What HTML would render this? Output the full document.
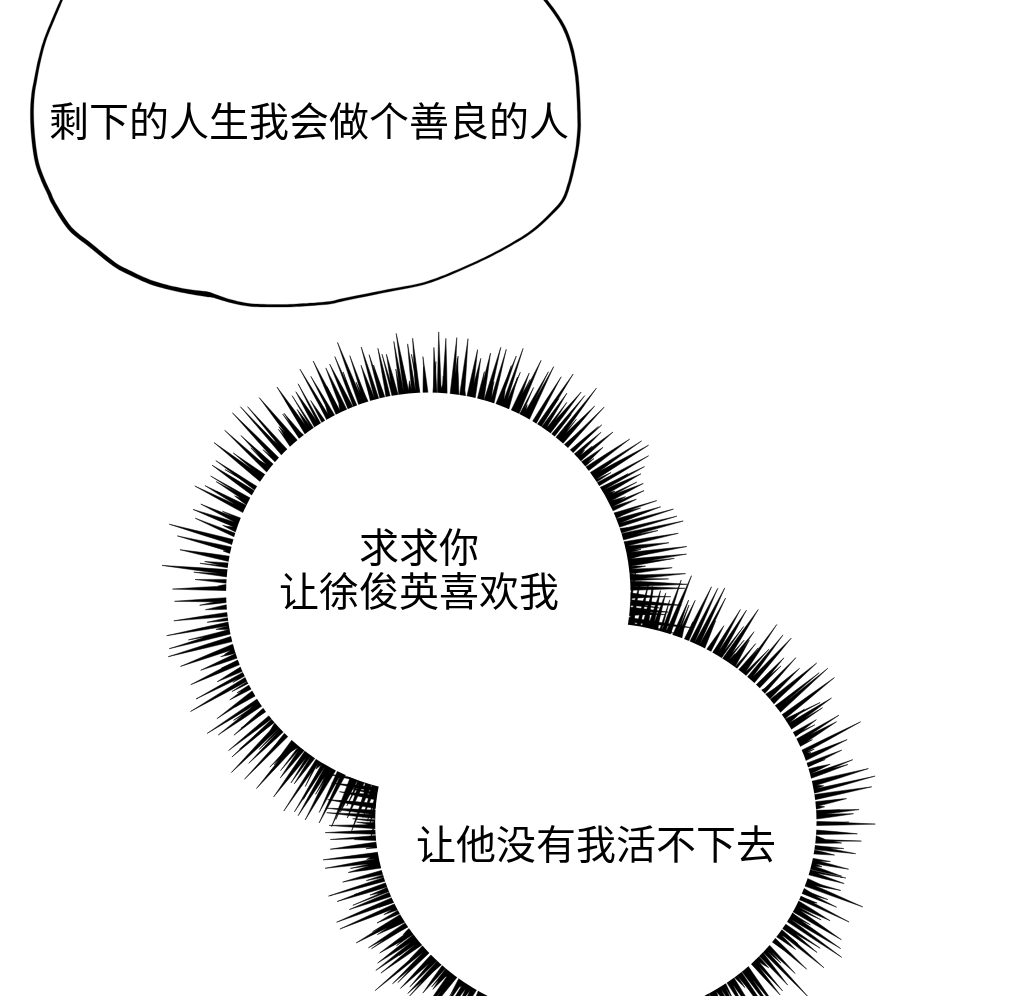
<!DOCTYPE html>
<html lang="zh-CN"><head><meta charset="utf-8"><title>page</title>
<style>
html,body{margin:0;padding:0;background:#fff;}
body{width:1020px;height:996px;position:relative;overflow:hidden;font-family:"Liberation Sans","Noto Sans CJK SC",sans-serif;color:#000;}
svg{position:absolute;left:0;top:0;}
.t{position:absolute;will-change:transform;transform:translateZ(0);white-space:nowrap;font-size:40px;line-height:44px;font-weight:400;text-align:center;letter-spacing:0;}
#t1{left:49px;top:100px;width:520px;}
#t2{left:219px;top:526px;width:400px;}
#t3{left:396px;top:823px;width:400px;}
</style></head><body>
<svg width="1020" height="996" viewBox="0 0 1020 996">
<path d="M62.2 -4.4L62.1 -4.2L62.0 -4.0L61.9 -3.7L61.6 -3.1L61.2 -2.1L60.5 -0.4L59.5 2.0L58.1 5.0L56.6 8.6L55.0 12.3L53.4 16.0L51.9 19.6L50.5 22.9L49.1 26.2L47.7 29.6L46.4 32.9L45.1 36.3L43.9 39.6L42.8 43.0L41.7 46.3L40.8 49.7L39.9 53.0L39.1 56.4L38.2 59.7L37.4 63.1L36.7 66.6L36.0 70.1L35.3 73.5L34.7 76.7L34.1 79.7L33.6 82.5L33.1 85.0L32.6 87.3L32.2 89.7L31.8 92.1L31.5 94.8L31.2 97.7L30.9 100.7L30.7 103.8L30.5 107.1L30.4 110.5L30.4 114.0L30.4 117.8L30.5 121.7L30.7 125.9L30.9 130.1L31.2 134.3L31.6 138.4L32.0 142.5L32.5 146.7L33.1 150.9L33.7 155.0L34.4 159.0L35.2 162.7L36.1 166.2L37.1 169.4L38.1 172.5L39.2 175.3L40.3 178.1L41.3 180.7L42.4 183.2L43.4 185.5L44.4 187.7L45.4 189.8L46.4 191.8L47.3 193.8L48.1 195.5L48.6 197.0L49.2 198.6L49.9 200.3L51.0 202.4L52.5 205.0L54.4 208.4L56.7 212.4L59.3 216.8L62.2 221.3L65.2 225.6L68.3 229.5L71.5 232.9L74.8 235.8L78.2 238.5L81.8 241.2L85.3 243.8L89.0 246.7L92.8 249.8L97.0 253.3L101.3 256.8L105.5 260.2L109.5 263.3L113.2 265.9L116.3 268.0L119.0 269.7L121.5 271.0L123.9 272.2L126.4 273.4L129.1 274.7L132.2 276.2L135.4 277.8L138.7 279.3L142.1 280.9L145.5 282.3L148.9 283.7L152.2 284.9L155.5 285.9L158.8 286.9L162.1 287.8L165.4 288.7L168.7 289.5L172.0 290.3L175.3 291.1L178.6 291.8L181.9 292.4L185.2 293.1L188.4 293.7L191.9 294.3L195.4 294.9L199.0 295.5L202.3 296.0L205.4 296.5L208.0 296.9L210.1 297.1L211.9 297.3L213.4 297.5L214.7 297.6L215.8 297.7L216.7 297.8L217.3 295.8L216.5 295.4L215.6 294.9L214.4 294.2L212.9 293.5L211.1 292.8L208.8 292.1L206.1 291.6L203.0 291.2L199.6 290.8L196.1 290.4L192.5 290.0L189.2 289.5L185.9 289.0L182.6 288.4L179.4 287.8L176.2 287.1L172.9 286.4L169.7 285.7L166.4 284.8L163.2 284.0L160.0 283.1L156.7 282.1L153.5 281.1L150.3 279.9L147.0 278.6L143.7 277.2L140.4 275.7L137.1 274.2L133.9 272.6L130.9 271.1L128.1 269.8L125.7 268.6L123.3 267.5L121.0 266.2L118.4 264.7L115.4 262.7L111.9 260.1L108.0 257.0L103.8 253.7L99.5 250.2L95.4 246.7L91.4 243.5L87.7 240.6L84.2 238.0L80.7 235.4L77.4 232.7L74.3 230.0L71.3 226.9L68.4 223.3L65.5 219.1L62.7 214.8L60.0 210.5L57.7 206.5L55.7 203.2L54.3 200.6L53.4 198.7L52.7 197.2L52.1 195.7L51.5 194.1L50.7 192.2L49.7 190.2L48.7 188.2L47.7 186.1L46.7 184.0L45.7 181.7L44.7 179.3L43.6 176.7L42.5 174.0L41.5 171.2L40.4 168.3L39.5 165.2L38.6 161.9L37.8 158.3L37.1 154.5L36.5 150.4L35.9 146.3L35.4 142.1L35.0 138.0L34.6 134.0L34.3 129.8L34.0 125.7L33.8 121.6L33.7 117.7L33.6 114.0L33.6 110.5L33.7 107.2L33.8 104.0L34.0 101.0L34.2 98.0L34.5 95.2L34.8 92.5L35.1 90.1L35.5 87.8L35.9 85.5L36.4 83.0L36.9 80.3L37.4 77.2L38.0 74.0L38.6 70.6L39.3 67.1L40.0 63.7L40.8 60.3L41.5 57.0L42.4 53.6L43.2 50.3L44.1 47.0L45.1 43.7L46.1 40.4L47.3 37.1L48.6 33.8L49.9 30.4L51.3 27.1L52.7 23.8L54.1 20.4L55.5 16.9L57.1 13.2L58.7 9.4L60.2 5.9L61.5 2.8L62.5 0.4L63.2 -1.2L63.6 -2.2L63.9 -2.8L64.0 -3.1L64.1 -3.3L64.2 -3.6ZM202.7 293.6L203.6 293.9L204.8 294.3L206.1 294.9L207.7 295.5L209.5 296.1L211.5 296.8L213.7 297.6L216.1 298.4L218.8 299.3L221.6 300.2L224.6 301.1L227.6 301.9L230.7 302.7L233.9 303.5L237.2 304.3L240.6 305.0L244.0 305.6L247.4 306.1L250.7 306.4L254.1 306.7L257.4 306.8L260.7 306.9L264.0 307.0L267.3 307.0L270.5 307.1L273.8 307.1L277.1 307.1L280.4 307.1L283.7 307.1L286.9 307.0L290.2 306.9L293.3 306.8L296.5 306.6L299.8 306.4L303.1 306.2L306.6 306.0L310.4 305.7L314.5 305.4L318.7 305.1L322.8 304.8L326.7 304.4L330.2 304.0L332.8 303.6L334.6 303.2L336.2 302.8L338.0 302.3L340.6 301.7L344.6 300.8L350.4 299.6L357.7 298.1L365.9 296.4L374.2 294.7L382.2 293.1L389.2 291.7L395.3 290.5L400.9 289.5L406.1 288.5L411.1 287.6L415.8 286.6L420.3 285.6L424.4 284.4L428.2 283.3L431.7 282.2L435.0 280.9L438.5 279.7L442.1 278.3L445.9 276.8L449.8 275.2L453.7 273.5L457.7 271.8L461.7 270.1L465.6 268.3L469.5 266.6L473.5 264.8L477.5 263.0L481.4 261.1L485.3 259.3L489.1 257.4L492.9 255.5L496.5 253.6L500.2 251.7L503.7 249.8L507.3 247.8L510.9 245.7L514.6 243.6L518.3 241.4L522.0 239.2L525.7 236.9L529.2 234.6L532.7 232.1L536.0 229.5L539.3 226.8L542.4 224.0L545.4 221.2L548.3 218.4L551.0 215.8L553.5 213.3L555.9 210.9L558.2 208.6L560.3 206.2L562.2 203.8L563.9 201.2L565.5 198.5L566.7 195.8L567.7 193.0L568.7 190.2L569.5 187.4L570.4 184.6L571.3 181.7L572.1 178.6L572.9 175.6L573.6 172.5L574.3 169.4L575.0 166.4L575.6 163.4L576.3 160.4L577.0 157.4L577.6 154.4L578.1 151.3L578.6 148.3L579.1 145.2L579.5 142.0L579.8 138.7L580.1 135.6L580.3 132.7L580.5 130.1L580.6 128.0L580.7 126.4L580.7 124.9L580.7 123.5L580.6 121.7L580.6 119.5L580.5 116.5L580.5 113.2L580.3 109.5L580.2 105.7L580.1 101.9L579.9 98.3L579.7 94.9L579.5 91.5L579.3 88.2L579.1 84.9L578.8 81.7L578.5 78.5L578.2 75.6L577.8 72.7L577.4 69.9L577.0 67.2L576.5 64.4L576.0 61.6L575.4 58.8L574.9 56.0L574.3 53.1L573.7 50.3L572.9 47.4L572.1 44.6L571.2 41.7L570.2 38.8L569.2 35.8L568.1 33.0L566.9 30.1L565.7 27.5L564.4 24.9L563.0 22.5L561.6 20.1L560.2 17.9L558.7 15.6L557.1 13.3L555.4 10.8L553.5 8.1L551.5 5.5L549.6 3.0L548.0 0.9L546.6 -0.9L545.6 -2.2L544.8 -3.2L544.2 -3.9L543.7 -4.4L543.4 -4.7L543.1 -5.0L540.9 -3.0L541.2 -2.7L541.5 -2.3L541.9 -1.9L542.5 -1.3L543.2 -0.4L544.2 0.9L545.6 2.7L547.3 4.9L549.1 7.3L551.1 9.9L553.0 12.5L554.7 14.9L556.2 17.2L557.7 19.5L559.1 21.7L560.4 24.0L561.7 26.3L562.9 28.7L564.1 31.4L565.3 34.1L566.4 36.9L567.4 39.8L568.4 42.6L569.3 45.4L570.0 48.2L570.7 51.0L571.4 53.8L572.0 56.6L572.5 59.4L573.0 62.2L573.5 64.9L574.0 67.6L574.4 70.3L574.8 73.1L575.2 75.9L575.5 78.9L575.8 81.9L576.1 85.1L576.3 88.4L576.5 91.7L576.7 95.1L576.9 98.5L577.1 102.0L577.2 105.8L577.3 109.6L577.5 113.2L577.5 116.6L577.6 119.5L577.6 121.8L577.7 123.5L577.7 124.9L577.7 126.3L577.6 127.9L577.5 129.9L577.3 132.5L577.1 135.4L576.8 138.4L576.5 141.6L576.2 144.8L575.8 147.9L575.3 150.9L574.8 153.8L574.2 156.8L573.5 159.8L572.9 162.8L572.2 165.8L571.6 168.8L570.9 171.9L570.2 174.9L569.4 178.0L568.7 180.9L567.8 183.8L566.9 186.6L566.1 189.4L565.2 192.1L564.2 194.8L563.0 197.3L561.7 199.8L560.0 202.2L558.2 204.5L556.2 206.8L554.0 209.1L551.7 211.5L549.2 214.0L546.6 216.7L543.8 219.4L540.8 222.2L537.7 225.0L534.5 227.7L531.3 230.3L528.0 232.7L524.5 235.1L520.9 237.4L517.2 239.6L513.5 241.8L509.9 243.9L506.3 246.0L502.7 248.0L499.2 249.9L495.6 251.8L492.0 253.7L488.3 255.6L484.5 257.5L480.6 259.3L476.6 261.2L472.7 263.0L468.7 264.7L464.8 266.5L460.9 268.2L456.9 269.9L452.9 271.6L449.0 273.3L445.1 274.9L441.3 276.3L437.7 277.7L434.3 278.9L431.0 280.1L427.5 281.3L423.8 282.4L419.7 283.4L415.3 284.4L410.6 285.4L405.7 286.3L400.5 287.2L394.9 288.2L388.8 289.3L381.8 290.7L373.7 292.3L365.4 293.9L357.2 295.6L349.9 297.0L344.0 298.2L340.0 299.1L337.3 299.8L335.5 300.3L334.0 300.7L332.3 301.0L329.8 301.4L326.4 301.8L322.6 302.2L318.5 302.5L314.3 302.9L310.2 303.1L306.4 303.4L302.9 303.6L299.6 303.8L296.4 304.0L293.2 304.2L290.1 304.3L286.9 304.4L283.6 304.5L280.4 304.5L277.1 304.5L273.9 304.5L270.6 304.4L267.3 304.4L264.0 304.3L260.8 304.2L257.5 304.1L254.2 303.9L251.0 303.7L247.8 303.3L244.5 302.8L241.2 302.1L237.9 301.4L234.6 300.5L231.5 299.7L228.4 298.9L225.5 298.0L222.7 297.0L219.9 296.1L217.2 295.1L214.8 294.3L212.5 293.6L210.5 293.0L208.6 292.6L206.9 292.3L205.4 292.0L204.2 291.8L203.3 291.6Z" fill="#000" stroke="#000" stroke-width="0.3" stroke-linejoin="round"/>
<path d="M234.1 585.8L226.1 585.9L202.0 587.2L172.5 589.1L202.0 590.0L226.2 590.5L234.2 590.4ZM234.5 579.8L226.5 579.4L212.4 579.4L195.0 579.5L212.2 581.6L226.3 583.2L234.3 583.6ZM235.4 570.4L227.4 569.6L198.0 567.6L162.0 565.4L197.7 570.5L226.9 574.5L234.9 575.3ZM236.2 564.1L228.3 563.0L217.7 562.2L204.6 561.5L217.3 564.4L227.8 566.7L235.7 567.8ZM237.4 557.7L229.5 556.2L207.2 553.1L179.9 549.7L206.6 556.3L228.5 561.4L236.4 562.9ZM239.2 548.9L231.5 547.0L207.1 541.9L177.3 535.9L206.4 544.7L230.3 551.8L238.0 553.7ZM241.1 541.7L233.4 539.5L204.5 532.5L169.2 524.2L203.7 535.4L232.0 544.3L239.7 546.5ZM242.7 536.4L235.4 533.3L217.3 526.4L195.2 518.2L216.5 528.5L233.9 536.7L241.3 539.9ZM246.2 526.0L238.6 523.2L218.2 516.9L193.0 509.4L217.1 519.9L236.8 528.2L244.3 530.9ZM247.4 523.1L240.1 519.7L222.5 512.6L200.8 504.1L221.3 515.1L238.2 523.9L245.5 527.2ZM251.9 512.5L244.7 508.9L222.3 498.5L194.8 486.0L221.2 500.7L242.8 512.6L250.0 516.2ZM253.5 509.2L246.5 505.4L227.8 496.4L204.9 485.6L226.3 499.1L244.0 509.9L251.0 513.7ZM256.5 503.3L249.6 499.2L234.6 491.2L216.1 481.6L233.4 493.2L247.6 502.6L254.5 506.7ZM261.1 495.2L254.4 490.7L235.4 479.1L212.1 465.2L233.7 481.7L251.6 494.9L258.2 499.4ZM263.5 491.1L256.9 486.5L238.5 474.8L215.8 460.6L237.1 476.8L254.6 490.0L261.2 494.5ZM269.6 482.1L263.2 477.2L241.2 461.6L214.0 442.6L239.2 464.1L260.0 481.5L266.3 486.4ZM271.4 479.5L265.0 474.6L250.7 464.8L233.2 452.9L249.3 466.7L262.6 477.8L268.9 482.7ZM275.4 474.5L269.5 469.0L249.4 451.5L224.7 430.3L247.7 453.4L266.6 472.1L272.5 477.5ZM279.1 469.9L273.4 464.3L258.9 451.3L240.9 435.5L257.0 453.1L270.4 467.4L276.1 473.0ZM284.5 463.7L279.0 457.9L258.1 437.5L232.4 412.8L256.0 439.5L275.6 461.2L281.1 467.0ZM289.8 458.1L284.4 452.1L264.7 431.6L240.4 406.7L262.9 433.3L281.4 454.9L286.8 460.8ZM292.4 455.5L287.2 449.4L269.5 430.2L247.6 406.7L267.7 431.7L284.2 452.1L289.4 458.1ZM299.7 448.9L294.8 442.6L287.7 435.3L278.9 426.6L285.1 437.3L290.4 446.0L295.3 452.3ZM302.5 446.4L297.4 440.2L280.3 420.9L259.2 397.6L277.8 422.9L293.3 443.5L298.4 449.7ZM308.0 441.9L303.3 435.4L294.7 425.4L284.0 413.3L292.4 427.1L299.5 438.3L304.2 444.7ZM313.9 437.5L309.5 430.9L295.0 411.1L277.0 387.1L292.3 412.9L304.9 433.9L309.4 440.5ZM316.5 435.7L312.2 428.9L305.5 420.1L297.2 409.5L303.3 421.5L308.5 431.2L312.8 438.0ZM323.2 431.1L319.0 424.3L308.7 409.6L295.8 391.7L305.9 411.3L314.4 427.1L318.6 434.0ZM329.0 427.5L324.9 420.6L318.6 411.5L310.7 400.5L316.7 412.6L321.8 422.5L325.9 429.4ZM334.1 424.6L330.1 417.7L316.6 395.8L300.0 369.2L314.7 396.9L326.9 419.5L330.9 426.4ZM338.6 422.2L334.7 415.2L324.0 397.6L310.8 376.3L322.1 398.7L331.4 417.0L335.3 424.0ZM344.0 419.6L340.6 412.3L328.3 389.2L313.2 361.0L325.6 390.5L336.0 414.5L339.4 421.7ZM350.0 416.8L346.8 409.5L337.5 390.7L325.8 367.9L334.5 392.0L341.9 411.6L345.1 419.0ZM356.4 414.0L352.9 406.8L342.6 387.5L329.7 364.1L339.7 388.9L348.1 409.0L351.5 416.3ZM360.0 412.7L356.9 405.3L347.0 383.4L334.8 356.6L344.9 384.2L353.4 406.8L356.5 414.2ZM366.3 410.5L363.4 403.0L351.9 375.7L337.5 342.4L349.1 376.8L358.7 404.8L361.6 412.3ZM370.3 409.2L367.7 401.6L359.7 381.0L349.8 355.7L357.6 381.7L364.1 402.9L366.7 410.4ZM377.6 407.0L375.0 399.4L368.8 384.0L361.0 365.3L366.2 384.9L370.7 400.9L373.3 408.5ZM381.1 406.2L378.8 398.5L371.0 375.3L361.2 347.0L368.6 376.0L374.9 399.7L377.2 407.3ZM386.0 405.0L383.8 397.3L377.3 378.1L369.1 354.7L375.0 378.8L379.9 398.4L382.2 406.1ZM391.9 403.9L390.2 396.0L384.8 374.5L377.9 348.3L382.3 375.1L386.1 396.9L387.7 404.8ZM399.9 402.4L398.1 394.6L393.0 376.4L386.4 354.2L389.9 377.1L393.1 395.7L394.8 403.5ZM405.4 401.8L404.1 393.9L399.6 370.2L393.8 341.4L397.3 370.6L400.3 394.5L401.6 402.4ZM410.3 401.1L409.0 393.2L403.3 366.3L396.2 333.4L400.4 366.8L404.0 394.1L405.4 402.0ZM416.8 400.7L415.8 392.8L412.2 370.8L407.6 343.9L409.8 371.1L411.8 393.3L412.8 401.2ZM420.5 400.5L419.8 392.6L416.7 368.1L412.6 338.2L414.1 368.4L415.6 393.0L416.3 400.9ZM427.0 400.4L426.6 392.4L425.3 381.0L423.5 367.0L423.1 381.1L423.0 392.6L423.4 400.6ZM437.2 400.6L437.0 392.6L435.7 372.2L433.9 347.4L433.5 372.3L433.4 392.7L433.6 400.7ZM441.4 400.8L441.3 392.8L440.2 365.4L438.7 331.9L437.9 365.4L437.4 392.8L437.5 400.8ZM446.9 401.2L447.1 393.2L446.7 368.5L445.9 338.3L443.8 368.4L442.3 393.1L442.1 401.1ZM454.0 402.1L454.7 394.1L455.7 368.7L456.8 337.6L453.0 368.5L450.1 393.7L449.5 401.7ZM458.7 402.5L458.9 394.5L458.4 378.1L457.4 358.1L455.3 378.1L453.9 394.4L453.7 402.4ZM463.6 403.5L464.5 395.6L466.2 370.0L468.0 338.7L463.3 369.7L459.6 395.1L458.8 403.0ZM471.0 405.1L472.3 397.2L474.8 375.8L477.6 349.6L471.6 375.2L466.9 396.3L465.6 404.2ZM473.8 405.8L475.3 397.9L477.9 380.1L480.8 358.3L475.0 379.6L470.6 397.0L469.0 404.8ZM482.4 407.9L483.9 400.0L487.0 378.9L490.5 353.1L483.9 378.3L478.7 399.0L477.1 406.8ZM486.8 409.3L488.9 401.6L494.4 377.2L500.8 347.3L491.5 376.4L484.0 400.3L482.0 408.0ZM491.9 411.0L494.0 403.2L499.6 379.0L506.3 349.3L497.3 378.4L490.1 402.2L488.0 409.9ZM496.9 412.9L499.8 405.4L507.3 383.2L516.3 356.0L504.9 382.3L495.8 403.9L493.0 411.4ZM502.4 414.9L505.0 407.4L513.3 380.8L523.1 348.4L511.1 380.1L501.5 406.1L498.9 413.7ZM506.3 416.5L508.9 408.9L512.9 394.6L517.6 377.0L510.8 393.9L505.3 407.7L502.8 415.3ZM513.0 419.6L516.0 412.2L522.0 394.6L529.2 373.0L519.2 393.4L511.2 410.2L508.2 417.6ZM515.7 421.0L519.0 413.7L529.1 389.8L541.1 360.3L526.4 388.5L514.5 411.6L511.2 418.9ZM522.4 424.6L526.2 417.5L536.3 397.0L548.4 371.8L534.3 395.9L522.9 415.7L519.1 422.8ZM525.9 426.4L529.5 419.2L540.5 395.6L553.7 366.6L538.0 394.4L525.4 417.1L521.7 424.3ZM532.2 430.3L536.3 423.4L547.6 402.5L561.2 376.8L545.3 401.1L532.5 421.2L528.5 428.1ZM536.9 433.4L541.3 426.7L555.8 403.0L573.2 374.0L553.4 401.5L537.5 424.1L533.1 430.8ZM541.0 436.1L545.4 429.4L555.2 413.2L566.9 393.2L552.9 411.7L541.6 426.9L537.1 433.5ZM545.3 439.5L550.4 433.3L564.4 414.8L581.2 392.0L562.0 412.8L546.4 430.0L541.3 436.2ZM549.5 442.5L554.5 436.3L568.2 418.0L584.8 395.6L566.5 416.6L551.6 434.0L546.6 440.2ZM554.6 446.5L559.4 440.2L576.1 416.9L596.4 388.2L574.0 415.2L555.8 437.4L551.0 443.7ZM557.5 449.3L563.0 443.5L577.4 426.7L594.7 406.0L575.0 424.5L559.1 439.8L553.6 445.6ZM562.3 453.6L567.8 447.8L584.2 429.5L604.2 407.1L582.6 427.9L565.0 445.1L559.5 450.9ZM567.1 458.3L572.9 452.9L584.5 441.0L598.4 426.4L582.8 439.3L570.2 449.9L564.3 455.3ZM570.9 462.2L576.8 456.8L587.8 445.8L601.1 432.2L586.2 444.1L574.2 454.0L568.3 459.4ZM574.4 466.2L580.6 461.2L595.3 448.1L613.0 432.0L593.5 446.0L577.7 457.5L571.5 462.6ZM578.2 470.6L584.5 465.6L592.9 457.4L603.1 447.3L591.1 455.2L581.4 461.8L575.2 466.8ZM582.0 475.4L588.6 470.8L607.2 456.6L629.7 439.1L605.5 454.3L585.8 466.9L579.3 471.5ZM585.8 480.4L592.5 476.0L614.6 460.3L641.6 440.9L613.2 458.2L590.2 472.5L583.5 476.9ZM588.2 484.0L595.1 479.9L619.3 464.4L648.6 445.2L617.6 461.5L592.3 475.1L585.4 479.1ZM592.2 489.7L599.2 485.8L621.5 472.4L648.6 455.8L620.3 470.4L597.3 482.5L590.3 486.4ZM595.1 494.4L602.2 490.8L621.3 480.0L644.5 466.6L620.2 477.9L600.4 487.3L593.3 491.0ZM597.7 498.9L604.8 495.3L621.2 485.7L641.0 473.8L619.7 482.8L602.4 490.4L595.2 494.1ZM601.3 505.5L608.5 502.2L624.3 493.8L643.3 483.4L623.0 491.1L606.4 497.5L599.1 500.9ZM603.1 509.0L610.4 505.9L617.2 501.8L625.5 496.7L616.1 499.3L608.5 501.5L601.2 504.7ZM605.4 514.0L612.8 511.0L623.5 505.8L636.4 499.2L622.6 503.5L611.3 507.3L603.9 510.3ZM607.9 520.1L615.6 517.8L626.9 513.5L640.6 508.1L626.1 510.9L614.3 513.5L606.6 515.8ZM610.2 525.6L617.8 523.2L637.1 515.9L660.7 506.8L636.3 513.3L616.4 518.7L608.8 521.2ZM611.7 529.6L619.3 527.3L643.7 519.2L673.4 509.1L643.0 516.9L618.2 523.5L610.5 525.8ZM613.5 535.1L621.2 533.1L646.3 525.6L676.9 516.2L645.7 523.3L620.2 529.2L612.5 531.3ZM615.0 540.2L622.8 538.3L650.0 530.6L683.2 521.0L649.3 527.7L621.6 533.4L613.8 535.3ZM617.1 547.9L624.9 546.4L649.0 540.6L678.3 533.3L648.4 537.8L624.0 541.7L616.1 543.2ZM618.0 552.2L625.9 551.1L645.3 547.5L668.9 542.7L644.9 544.4L625.2 546.1L617.3 547.2ZM619.5 559.2L627.4 558.1L654.1 553.0L686.8 546.5L653.6 549.8L626.6 552.7L618.7 553.9ZM620.5 565.2L628.4 564.1L654.6 559.8L686.5 554.1L654.2 556.8L627.7 559.1L619.8 560.2ZM620.8 567.6L628.8 566.5L649.3 562.9L674.3 558.4L649.0 560.8L628.3 562.9L620.3 564.0ZM621.6 574.8L629.6 574.1L648.8 571.3L672.2 567.7L648.5 568.4L629.2 569.2L621.2 569.9ZM622.1 580.4L630.1 579.8L655.1 577.1L685.6 573.6L654.9 574.4L629.8 575.2L621.8 575.7ZM622.3 586.3L630.3 586.4L655.9 585.6L687.3 584.3L656.0 582.3L630.3 580.9L622.3 580.8ZM622.5 590.4L630.5 590.3L655.0 589.5L684.9 588.3L655.0 587.0L630.5 586.2L622.5 586.2ZM622.4 598.0L630.4 598.3L641.3 597.7L654.7 596.7L641.4 594.5L630.6 592.9L622.6 592.6ZM622.1 604.0L630.1 604.5L653.2 605.0L681.4 605.3L653.4 602.1L630.4 599.7L622.4 599.3ZM621.6 611.7L629.6 612.2L646.9 612.3L668.0 612.1L647.1 609.2L629.9 607.1L621.9 606.6ZM621.4 613.6L629.4 614.2L645.7 614.5L665.7 614.7L645.9 612.2L629.7 610.2L621.7 609.7ZM620.4 621.1L628.3 622.1L657.2 624.7L692.5 627.8L657.5 622.0L628.9 617.4L621.0 616.4ZM619.4 627.2L627.3 628.4L648.3 630.7L674.1 633.1L648.8 627.8L628.0 623.6L620.1 622.4ZM618.4 632.2L626.3 633.6L636.6 634.6L649.2 635.7L637.0 632.4L626.9 629.9L619.0 628.5ZM617.2 636.9L625.0 638.8L650.9 643.9L682.7 649.8L651.7 640.7L626.3 633.5L618.5 631.7ZM615.4 643.8L623.1 646.2L642.0 651.0L665.3 656.8L642.8 648.5L624.4 641.9L616.7 639.5ZM614.0 648.9L621.7 651.1L650.2 658.2L685.1 666.6L651.0 655.5L623.0 646.6L615.3 644.4ZM611.7 656.2L619.4 658.4L647.9 665.8L682.8 674.5L648.7 663.0L620.7 653.8L613.0 651.6ZM610.8 658.7L618.5 660.9L642.4 666.9L671.7 674.0L643.1 664.6L619.6 657.0L611.9 654.8ZM608.7 664.0L616.4 666.5L637.7 672.5L663.9 679.7L638.6 670.0L617.8 662.2L610.1 659.7ZM606.1 670.2L613.6 673.0L636.5 680.4L664.6 689.2L637.6 677.5L615.4 668.2L607.9 665.4ZM603.6 675.2L610.9 678.7L634.8 689.1L664.1 701.8L635.8 687.1L612.5 675.2L605.3 671.8ZM600.3 682.2L607.6 685.4L632.4 695.6L662.8 707.8L633.4 693.2L609.3 681.5L602.0 678.2ZM598.4 685.8L605.6 689.1L628.1 698.2L655.6 709.1L629.4 695.4L607.8 684.4L600.5 681.1ZM595.5 690.8L602.8 694.2L620.9 701.5L643.3 710.2L622.3 698.6L605.1 689.3L597.9 685.9ZM591.4 697.2L598.4 701.1L616.1 710.0L638.0 720.7L617.6 707.5L600.7 696.9L593.8 692.9ZM589.7 699.8L596.6 703.8L606.7 708.5L619.2 714.0L608.2 705.9L599.1 699.5L592.1 695.5ZM585.6 705.6L592.4 709.8L612.2 720.8L636.6 734.0L613.6 718.6L594.6 706.1L587.8 702.0ZM581.4 711.1L588.1 715.5L599.8 721.8L614.2 729.3L601.5 719.2L591.0 711.1L584.3 706.8ZM578.1 715.1L584.6 719.8L603.0 731.7L625.7 746.1L604.8 729.2L587.6 715.6L581.1 710.9ZM575.2 718.6L581.6 723.3L602.3 737.4L627.7 754.5L603.8 735.3L584.1 719.9L577.7 715.1ZM571.1 723.0L577.3 728.0L594.8 741.3L616.4 757.3L596.3 739.5L579.7 725.1L573.5 720.1ZM565.9 728.6L572.1 733.6L580.7 739.2L591.3 745.9L582.4 737.1L575.0 730.0L568.7 725.0ZM562.2 732.0L568.1 737.4L581.6 748.2L598.1 761.3L583.5 746.0L571.5 733.7L565.5 728.3ZM559.7 734.1L565.2 739.9L580.0 753.9L598.3 770.7L582.2 751.8L568.8 736.5L563.3 730.7ZM555.2 738.2L560.6 744.0L578.9 762.5L601.5 784.9L580.6 760.9L563.4 741.4L558.0 735.5ZM549.0 743.2L554.2 749.3L570.5 766.8L590.7 787.9L573.0 764.6L558.3 745.8L553.1 739.7ZM544.0 747.1L549.3 753.1L563.4 767.8L580.8 785.6L565.3 766.1L552.6 750.2L547.3 744.2ZM539.5 750.1L544.3 756.6L561.8 778.8L583.3 805.9L563.9 777.3L547.8 754.0L543.0 747.6ZM536.1 752.5L540.9 759.0L554.5 775.6L571.3 795.7L556.7 773.9L544.7 756.1L539.9 749.7ZM530.1 756.2L534.4 762.9L547.9 782.3L564.5 805.7L550.3 780.7L538.4 760.4L534.1 753.7ZM527.0 758.1L531.2 764.9L538.2 774.2L546.9 785.5L540.6 772.7L535.2 762.4L531.0 755.6ZM520.3 762.0L524.6 768.8L541.1 792.9L561.6 822.3L543.8 791.2L529.0 766.0L524.7 759.2ZM516.7 763.8L520.8 770.7L527.3 779.6L535.5 790.4L530.1 778.0L525.4 768.0L521.4 761.1ZM511.8 766.1L515.5 773.2L523.5 786.8L533.5 803.3L526.1 785.5L519.8 771.0L516.2 763.9ZM506.4 768.5L509.7 775.8L519.8 796.7L532.5 822.2L522.2 795.6L513.7 774.0L510.5 766.7ZM501.0 770.7L503.7 778.2L514.5 805.4L528.0 838.6L517.1 804.5L508.0 776.6L505.3 769.1ZM494.3 773.3L497.1 780.8L507.9 807.2L521.4 839.4L510.9 806.1L502.0 779.0L499.3 771.4ZM488.3 775.4L491.0 782.9L501.2 808.7L514.1 840.1L504.2 807.6L495.9 781.1L493.2 773.6ZM482.5 776.9L484.4 784.7L490.9 807.1L499.1 834.4L493.9 806.3L489.5 783.5L487.6 775.7ZM478.1 778.3L480.1 786.0L484.6 799.2L490.5 815.2L487.9 798.3L485.5 784.6L483.5 776.9ZM472.8 779.5L474.4 787.3L479.9 808.6L486.9 834.5L483.2 807.9L479.8 786.2L478.2 778.4ZM468.4 780.4L469.8 788.3L472.9 800.4L477.0 815.2L476.0 799.9L474.9 787.5L473.5 779.6ZM463.2 781.5L464.2 789.4L467.9 813.2L472.6 842.3L470.1 813.0L467.8 789.0L466.8 781.0ZM457.5 782.4L458.3 790.4L461.1 808.9L464.7 831.5L463.5 808.6L462.3 790.0L461.5 782.0ZM449.5 783.5L450.2 791.5L452.5 810.0L455.6 832.7L454.9 809.8L454.1 791.1L453.5 783.2ZM443.0 784.1L443.4 792.0L445.4 812.4L448.1 837.2L448.5 812.2L448.6 791.8L448.3 783.8ZM438.6 784.3L438.7 792.3L440.0 820.9L441.8 855.7L442.8 820.8L443.4 792.3L443.3 784.3ZM432.0 784.5L431.4 792.5L430.4 815.2L429.4 843.0L432.6 815.4L435.1 792.8L435.7 784.8ZM425.7 784.6L425.2 792.6L424.4 815.9L423.7 844.4L426.9 816.0L429.3 792.8L429.9 784.9ZM419.9 784.5L419.3 792.4L418.1 817.5L417.0 848.1L420.3 817.7L422.9 792.7L423.5 784.7ZM415.7 784.2L415.0 792.2L413.5 818.0L411.9 849.6L415.8 818.2L418.9 792.6L419.6 784.6ZM410.7 783.7L409.4 791.6L407.0 812.0L404.4 837.1L410.1 812.6L414.6 792.5L416.0 784.6ZM403.8 783.1L402.7 791.1L400.9 810.8L398.9 834.9L403.2 811.1L406.6 791.6L407.6 783.6ZM396.3 782.1L395.1 790.0L393.6 806.2L392.0 826.0L396.7 806.7L400.3 790.8L401.5 782.9ZM391.3 781.0L389.2 788.8L386.4 803.3L383.2 821.1L389.0 804.0L393.6 789.9L395.6 782.2ZM385.1 779.8L382.9 787.5L377.1 810.9L370.2 839.6L379.5 811.6L386.9 788.6L389.2 780.9ZM379.6 778.5L377.6 786.3L374.0 803.4L369.8 824.3L376.3 804.0L381.5 787.3L383.5 779.5ZM375.1 777.2L372.4 784.8L368.1 799.5L362.9 817.5L370.4 800.3L376.4 786.2L379.1 778.6ZM370.1 775.7L367.3 783.2L360.2 804.6L351.7 830.8L362.6 805.5L371.3 784.8L374.1 777.3ZM363.0 773.4L359.9 780.8L354.2 797.5L347.3 818.0L356.7 798.5L364.1 782.5L367.1 775.1ZM356.2 770.8L352.9 778.1L347.1 793.5L340.3 812.3L349.8 794.7L357.5 780.2L360.8 772.9ZM353.3 769.8L350.3 777.2L341.8 799.4L331.6 826.7L343.8 800.3L353.6 778.6L356.7 771.2ZM345.2 766.2L341.6 773.3L331.4 795.6L319.1 823.0L333.7 796.8L345.5 775.3L349.1 768.1ZM341.0 764.2L337.4 771.3L329.1 789.8L319.2 812.5L331.5 791.0L341.4 773.3L345.0 766.2ZM334.8 760.9L330.9 767.9L319.2 791.2L305.2 819.9L322.1 792.8L335.7 770.6L339.6 763.6ZM330.1 758.2L325.9 765.1L313.3 787.8L298.1 815.7L316.0 789.4L330.4 767.8L334.5 761.0ZM326.7 756.3L322.5 763.1L309.8 785.0L294.4 811.9L311.8 786.3L325.9 765.2L330.1 758.4ZM320.7 752.5L316.2 759.1L301.6 782.4L283.8 811.0L303.4 783.7L319.4 761.2L323.8 754.6ZM315.8 749.2L311.2 755.7L303.5 768.3L294.2 783.9L305.7 769.9L314.9 758.3L319.4 751.7ZM309.6 744.7L304.8 751.1L290.7 771.6L273.6 796.9L293.2 773.5L309.0 754.2L313.8 747.8ZM305.1 741.2L300.2 747.5L291.1 761.2L280.2 778.1L293.5 763.0L304.2 750.5L309.0 744.2ZM298.9 735.9L293.7 741.9L276.8 762.8L256.4 788.6L279.0 764.7L297.3 745.1L302.5 739.0ZM296.8 734.1L291.7 740.2L283.6 751.2L274.0 764.9L285.8 753.0L295.2 743.2L300.3 737.0ZM290.6 728.1L285.1 733.9L266.8 754.2L244.5 779.2L268.5 755.8L287.9 736.6L293.4 730.8ZM286.3 723.7L280.6 729.3L266.2 744.5L248.7 763.3L267.8 746.2L283.3 732.1L289.0 726.5ZM281.5 718.6L275.9 724.3L255.7 745.9L231.4 772.5L257.9 748.0L279.4 727.8L285.1 722.2ZM277.7 714.0L271.7 719.3L253.7 736.2L231.9 757.0L255.2 737.9L274.2 722.1L280.2 716.8ZM275.2 710.7L268.9 715.7L250.7 731.3L228.5 750.6L252.2 733.3L271.5 719.0L277.8 714.0ZM269.3 703.1L263.1 708.3L249.9 720.3L233.9 735.2L251.4 722.1L265.6 711.2L271.8 706.1ZM265.5 697.6L259.1 702.3L240.6 716.9L218.2 735.0L242.3 719.2L261.9 706.1L268.3 701.4ZM263.8 694.7L257.1 699.0L234.6 714.4L207.2 733.4L235.8 716.4L259.2 702.3L265.9 697.9ZM258.5 686.3L252.0 691.0L236.1 703.4L216.9 718.7L237.6 705.4L254.4 694.3L260.9 689.6ZM256.0 681.5L249.2 685.7L240.4 692.0L229.7 699.9L241.6 694.0L251.3 689.1L258.1 684.9ZM252.0 673.5L245.0 677.5L220.5 692.7L190.5 711.5L221.7 694.9L247.1 681.2L254.1 677.2ZM249.8 668.7L242.7 672.4L221.7 684.3L196.0 699.0L222.7 686.2L244.4 675.6L251.5 671.9ZM247.5 663.4L240.4 667.1L229.9 673.6L217.2 681.7L231.2 676.1L242.6 671.3L249.7 667.6ZM245.0 656.8L237.8 660.1L216.5 671.1L190.7 684.7L217.8 673.7L239.8 664.6L247.1 661.2ZM243.0 650.6L235.6 653.6L219.8 661.0L200.6 670.3L220.8 663.7L237.4 658.1L244.8 655.1ZM240.2 641.5L232.7 644.2L209.2 654.1L180.5 666.4L210.2 657.0L234.5 649.0L242.0 646.2ZM238.6 634.4L230.9 636.5L202.7 645.5L168.2 656.7L203.5 648.5L232.3 641.6L240.0 639.5ZM237.1 627.4L229.4 629.5L202.3 638.1L169.2 648.7L203.0 640.8L230.6 634.0L238.3 631.9ZM236.1 620.5L228.2 622.1L200.5 628.1L166.6 635.7L200.9 630.3L228.9 625.7L236.8 624.2ZM235.0 611.5L227.1 612.4L203.1 616.1L173.8 620.8L203.4 618.6L227.6 616.6L235.5 615.7ZM234.3 603.8L226.3 604.8L216.9 606.9L205.4 609.7L217.2 609.6L226.9 609.3L234.9 608.3ZM234.2 597.5L226.2 597.7L202.9 599.2L174.5 601.3L203.0 601.7L226.3 601.9L234.3 601.7ZM234.2 587.3L226.2 587.1L214.5 587.5L200.2 588.2L214.4 589.4L226.1 590.2L234.1 590.3ZM234.9 574.8L227.0 574.0L212.0 573.1L193.8 572.2L211.9 574.8L226.7 576.9L234.7 577.6ZM235.8 566.8L227.9 565.8L215.3 564.7L199.9 563.3L215.1 565.8L227.7 567.7L235.6 568.7ZM238.8 550.8L231.0 548.8L220.1 546.7L206.7 544.2L219.6 548.5L230.3 551.9L238.0 553.9ZM240.4 544.4L233.0 541.5L223.9 538.7L212.7 535.5L223.2 540.6L231.8 544.6L239.3 547.5ZM243.9 532.5L236.5 529.5L230.3 527.5L222.6 525.2L229.6 529.0L235.5 532.0L242.9 535.1ZM248.0 521.4L240.7 518.1L232.5 514.9L222.4 511.2L231.9 516.3L239.7 520.3L247.0 523.6ZM253.2 509.6L246.2 505.8L232.8 499.3L216.4 491.4L232.1 500.5L245.0 508.0L252.1 511.7ZM257.1 502.1L250.2 498.0L232.4 488.1L210.6 476.0L231.7 489.3L249.0 500.1L255.9 504.1ZM263.7 490.5L256.8 486.5L242.5 478.9L224.9 469.6L241.9 479.9L255.8 488.3L262.8 492.2ZM268.9 482.9L262.4 478.2L247.8 467.8L229.8 455.2L247.1 468.7L261.3 479.7L267.8 484.4ZM277.1 472.2L271.4 466.6L262.1 458.1L250.8 447.9L261.2 459.1L269.9 468.1L275.6 473.7ZM282.5 465.7L276.5 460.4L270.4 455.6L262.9 449.7L269.6 456.5L275.1 462.0L281.1 467.3ZM290.0 457.8L284.9 451.7L280.2 446.7L274.3 440.8L279.1 447.6L283.1 453.2L288.2 459.3ZM296.9 451.2L292.1 444.9L286.0 437.8L278.4 429.3L284.8 438.8L290.0 446.4L294.9 452.8ZM305.6 443.7L300.9 437.3L292.8 426.8L282.7 414.1L291.8 427.6L299.2 438.5L304.0 444.9ZM313.2 437.9L308.5 431.4L298.3 417.7L285.7 401.1L297.4 418.4L307.0 432.5L311.7 439.0ZM317.8 434.7L313.6 427.9L303.9 413.4L292.1 395.7L302.8 414.1L311.7 429.1L316.0 435.8ZM324.5 430.3L320.7 423.3L310.6 405.5L298.1 383.8L309.2 406.2L318.4 424.5L322.2 431.6ZM333.1 425.2L329.3 418.1L323.6 408.8L316.5 397.5L321.9 409.7L326.6 419.6L330.3 426.7ZM344.0 419.5L340.6 412.3L334.5 400.6L326.9 386.4L333.3 401.2L338.6 413.3L342.0 420.5ZM354.2 415.1L351.4 407.6L347.2 398.4L342.0 387.3L345.4 399.1L348.4 408.7L351.2 416.2ZM358.8 413.3L356.1 405.7L350.3 390.5L343.1 371.9L349.1 390.9L354.1 406.4L356.8 414.0ZM368.2 409.9L365.3 402.4L361.3 393.3L356.1 382.2L359.6 393.9L362.6 403.4L365.5 410.9ZM375.9 407.6L373.7 399.9L370.3 390.7L366.1 379.5L368.4 391.3L370.4 400.9L372.6 408.6ZM387.1 404.7L384.9 397.1L379.8 382.6L373.5 365.0L377.9 383.2L381.7 398.0L383.9 405.7ZM396.7 402.9L394.6 395.2L389.0 376.7L382.0 354.2L387.4 377.1L392.0 395.9L394.1 403.6ZM402.6 402.1L401.3 394.3L398.9 382.9L395.8 369.0L397.3 383.1L398.7 394.7L400.0 402.6ZM410.2 401.2L408.8 393.3L405.0 375.9L400.1 354.7L403.0 376.3L405.6 393.9L407.0 401.8ZM421.2 400.4L419.7 392.5L416.1 375.3L411.4 354.2L414.9 375.5L417.8 392.9L419.3 400.8ZM428.8 400.3L428.0 392.4L425.8 376.3L422.9 356.6L424.1 376.5L425.2 392.7L426.1 400.6ZM434.9 400.6L435.4 392.7L435.7 378.7L435.9 361.5L434.2 378.6L432.9 392.5L432.5 400.5ZM444.8 401.1L444.7 393.1L444.1 385.4L443.3 376.1L442.7 385.4L442.4 393.1L442.5 401.1ZM455.6 402.3L456.3 394.4L457.2 377.1L458.1 356.1L455.2 376.9L453.0 394.1L452.3 402.0ZM461.6 403.3L462.8 395.4L463.5 387.6L464.3 378.0L462.1 387.4L460.5 395.1L459.3 403.0ZM469.3 404.8L470.6 396.9L471.9 385.9L473.5 372.6L470.9 385.8L468.8 396.6L467.5 404.5ZM479.0 407.0L480.6 399.2L482.4 386.8L484.4 371.6L480.4 386.4L477.4 398.6L475.8 406.4ZM487.4 409.6L489.6 401.9L491.6 392.8L494.0 381.7L490.0 392.4L486.9 401.1L484.7 408.8ZM497.1 412.9L499.5 405.3L504.9 387.5L511.3 365.6L503.6 387.0L497.5 404.6L495.0 412.2ZM503.6 415.5L506.7 408.2L512.9 392.0L520.3 372.3L511.3 391.4L504.0 407.0L500.9 414.4ZM512.0 419.3L515.6 412.1L522.2 397.5L530.2 379.4L520.6 396.7L512.9 410.8L509.4 418.0ZM518.3 422.3L521.8 415.1L527.1 402.7L533.6 387.5L525.9 402.1L519.7 414.1L516.3 421.4ZM524.9 426.0L528.8 419.0L531.6 413.1L534.8 405.9L530.4 412.4L526.8 417.9L523.0 424.9ZM536.0 432.8L540.7 426.3L548.9 413.9L558.8 398.6L547.4 412.8L538.1 424.5L533.4 430.9ZM543.2 437.8L547.9 431.2L556.5 418.3L566.8 402.4L555.1 417.3L545.6 429.6L541.0 436.1ZM549.3 442.4L554.5 436.3L562.0 426.6L571.1 414.7L561.0 425.8L552.8 434.9L547.6 441.0ZM554.8 446.9L560.0 440.7L567.3 431.2L576.3 419.4L566.4 430.4L558.4 439.4L553.3 445.6ZM560.5 451.9L566.2 446.3L572.9 439.0L581.1 429.9L571.8 437.9L564.3 444.5L558.6 450.1ZM566.3 457.6L572.3 452.3L585.7 440.0L601.8 424.9L584.5 438.7L570.4 450.1L564.3 455.3ZM574.1 465.6L579.9 460.1L585.4 453.9L592.1 446.2L584.1 452.5L577.7 457.8L571.9 463.3ZM578.7 471.2L585.1 466.4L589.1 462.9L594.0 458.5L588.4 461.9L583.9 464.7L577.5 469.5ZM585.9 480.4L592.5 476.0L601.1 469.8L611.5 462.1L600.4 468.7L591.4 474.2L584.7 478.6ZM589.7 485.9L596.7 482.0L603.2 477.8L611.1 472.5L602.4 476.4L595.4 479.7L588.4 483.6ZM595.3 494.7L602.2 490.6L613.9 483.0L628.1 473.7L613.0 481.5L600.7 487.9L593.8 492.0ZM599.7 502.3L606.8 498.7L620.4 491.3L636.8 482.1L619.7 490.0L605.7 496.5L598.6 500.1ZM603.9 510.7L611.2 507.4L626.0 499.9L644.1 490.6L625.2 498.1L609.8 504.4L602.6 507.7ZM607.1 517.8L614.7 515.4L633.7 508.8L656.8 500.6L633.2 507.3L613.9 513.0L606.3 515.4ZM610.7 526.6L618.2 523.8L632.1 518.0L649.0 510.7L631.4 516.2L617.1 520.9L609.6 523.6ZM612.7 532.7L620.5 530.7L623.7 529.4L627.5 527.7L623.3 528.1L619.9 528.5L612.2 530.5ZM615.5 541.7L623.3 540.0L638.9 535.8L658.0 530.5L638.5 533.9L622.6 536.7L614.8 538.5ZM618.7 554.9L626.5 553.5L633.1 551.8L641.0 549.4L632.7 549.8L626.0 550.3L618.1 551.6ZM620.0 561.4L627.8 559.6L636.7 556.9L647.6 553.6L636.4 555.5L627.2 557.2L619.4 559.0ZM621.2 570.4L629.1 569.5L636.6 568.1L645.6 566.1L636.4 566.1L628.8 566.2L620.8 567.1ZM622.1 580.9L630.1 580.7L647.4 579.9L668.6 578.9L647.4 578.5L630.0 578.4L622.0 578.5ZM622.3 586.0L630.3 586.2L638.4 585.9L648.3 585.4L638.5 584.4L630.4 583.7L622.4 583.5ZM622.5 597.8L630.5 597.8L648.6 597.3L670.9 596.7L648.7 595.9L630.5 595.4L622.5 595.4ZM622.1 604.2L630.0 605.3L643.2 606.5L659.4 607.9L643.5 604.9L630.4 602.5L622.4 601.5ZM621.3 615.1L629.3 615.2L640.8 614.8L654.9 614.2L640.9 613.3L629.3 612.8L621.3 612.7ZM620.0 623.3L627.9 624.7L647.7 627.7L671.9 631.3L647.9 626.4L628.3 622.5L620.4 621.1ZM618.5 631.3L626.3 633.0L634.0 634.1L643.5 635.2L634.4 632.4L626.9 630.3L619.1 628.6ZM616.8 639.2L624.7 640.5L639.2 642.3L657.0 644.4L639.4 640.9L625.1 638.2L617.2 637.0ZM614.1 648.7L621.9 650.5L642.1 654.8L666.9 660.0L642.5 653.3L622.5 648.0L614.8 646.1ZM611.2 657.3L618.8 659.7L627.8 662.1L638.7 664.9L628.2 660.8L619.5 657.5L611.9 655.0ZM608.2 664.9L615.7 667.8L634.3 674.5L657.2 682.6L634.8 673.2L616.5 665.6L609.1 662.7ZM603.9 675.0L611.4 677.7L620.6 680.6L631.9 684.0L621.0 679.5L612.1 675.8L604.5 673.1ZM600.8 680.9L608.0 684.4L624.5 691.6L644.7 700.3L625.2 690.0L609.3 681.8L602.1 678.3ZM596.7 688.5L604.0 691.8L620.9 699.1L641.7 707.8L621.5 697.9L604.9 689.9L597.6 686.5ZM590.7 698.0L597.6 702.1L611.3 709.4L628.0 718.3L612.0 708.1L598.9 699.9L592.0 695.8ZM584.4 707.4L591.4 711.1L602.2 716.2L615.5 722.4L602.9 715.0L592.5 709.0L585.5 705.3ZM580.0 712.7L586.4 717.4L600.5 727.2L617.7 739.0L601.4 725.9L588.0 715.3L581.5 710.5ZM573.9 720.0L580.5 724.5L593.3 732.8L608.9 742.7L594.1 731.6L581.9 722.6L575.3 718.0ZM569.4 724.7L575.5 729.9L581.0 733.7L587.8 738.2L582.2 732.3L577.5 727.5L571.4 722.4ZM563.4 730.5L568.7 736.5L574.8 742.5L582.3 749.7L575.9 741.5L570.6 734.8L565.2 728.9ZM556.8 736.7L562.5 742.4L569.8 749.2L578.9 757.5L570.6 748.4L563.8 741.0L558.2 735.4ZM551.1 741.4L556.3 747.6L560.3 751.6L565.3 756.4L561.4 750.6L558.1 746.0L553.0 739.9ZM542.3 748.1L547.1 754.6L556.2 766.4L567.5 780.8L557.2 765.7L548.7 753.4L544.0 746.9ZM536.2 752.3L540.4 759.1L551.2 775.6L564.5 795.7L552.4 774.8L542.4 757.8L538.2 751.0ZM528.0 757.6L532.7 764.1L544.5 779.5L559.0 798.3L545.8 778.6L534.8 762.5L530.2 756.1ZM518.0 763.0L521.8 770.1L527.6 780.2L534.9 792.5L528.7 779.6L523.6 769.1L519.9 762.0ZM510.0 766.8L512.9 774.3L520.2 791.2L529.2 811.8L521.6 790.6L515.2 773.3L512.3 765.9ZM505.2 769.1L508.6 776.3L512.5 783.5L517.5 792.3L513.9 782.8L510.9 775.2L507.5 767.9ZM494.4 773.2L497.0 780.8L503.4 798.0L511.5 819.1L505.0 797.5L499.5 779.9L497.0 772.3ZM486.2 775.9L488.2 783.6L491.9 795.6L496.5 810.2L493.4 795.2L490.8 783.0L488.8 775.2ZM476.9 778.6L478.9 786.3L484.6 806.1L491.6 830.3L486.0 805.7L481.3 785.7L479.3 778.0ZM467.2 780.8L468.5 788.6L472.0 805.8L476.4 826.7L473.9 805.5L471.6 788.1L470.3 780.2ZM459.4 782.2L460.7 790.1L463.0 801.4L465.9 815.2L464.2 801.2L462.7 789.8L461.3 781.9ZM454.6 782.9L454.4 790.9L454.6 799.2L455.0 809.4L455.8 799.2L456.4 790.9L456.6 782.9ZM440.0 784.2L439.8 792.2L440.2 801.4L440.9 812.7L442.1 801.5L443.0 792.3L443.1 784.3ZM431.0 784.6L430.6 792.6L430.4 808.4L430.3 827.8L432.0 808.5L433.3 792.7L433.7 784.7ZM423.6 784.5L422.7 792.5L421.2 809.5L419.6 830.4L423.0 809.8L425.7 792.8L426.6 784.9ZM416.9 784.3L416.0 792.3L415.8 797.6L415.8 804.1L417.3 797.7L418.3 792.5L419.3 784.6ZM408.6 783.7L407.7 791.6L406.7 805.0L405.5 821.3L408.1 805.1L410.0 791.9L410.9 784.0ZM397.0 782.2L395.7 790.1L392.8 810.4L389.4 835.2L394.1 810.6L398.0 790.4L399.3 782.6ZM386.8 780.2L384.8 788.0L382.5 798.6L379.8 811.6L383.6 798.9L386.7 788.5L388.7 780.7ZM381.3 778.9L378.6 786.5L373.4 802.1L367.2 821.2L374.5 802.5L380.5 787.1L383.2 779.6ZM367.8 775.1L365.3 782.7L364.6 786.7L363.9 791.7L366.4 787.3L368.2 783.7L370.8 776.1ZM361.6 772.9L358.1 780.1L353.0 791.7L346.9 805.8L354.3 792.3L360.2 781.1L363.7 774.0ZM355.4 770.6L352.2 778.0L344.8 796.6L335.8 819.5L346.3 797.3L354.8 779.1L358.0 771.7ZM344.5 765.8L340.9 773.0L339.6 777.0L338.2 781.9L341.3 777.8L343.8 774.4L347.4 767.3ZM334.2 760.6L330.1 767.5L323.5 779.5L315.6 794.3L324.9 780.3L332.3 768.8L336.4 761.9ZM326.2 756.1L322.3 763.0L313.7 779.4L303.3 799.5L315.1 780.2L324.7 764.4L328.6 757.4ZM320.8 752.8L317.3 760.0L311.8 771.9L305.3 786.5L312.9 772.4L319.1 760.9L322.6 753.7ZM312.9 747.2L308.4 753.8L300.5 766.9L290.9 783.0L302.1 768.0L311.2 755.7L315.7 749.1ZM303.7 740.0L298.7 746.2L290.5 757.2L280.5 770.7L291.6 758.1L300.6 747.7L305.6 741.5ZM299.1 736.0L293.5 741.7L282.8 753.1L269.8 767.1L283.7 754.0L295.0 743.1L300.6 737.4ZM289.7 727.3L284.4 733.3L279.0 740.1L272.6 748.7L280.2 741.2L286.4 735.1L291.7 729.1ZM284.9 722.2L279.2 727.9L270.1 737.5L259.1 749.5L271.0 738.4L280.7 729.3L286.3 723.7ZM278.8 715.1L272.6 720.2L257.6 733.2L239.4 749.2L258.7 734.6L274.4 722.5L280.6 717.4ZM271.1 705.4L264.6 710.0L253.9 718.2L241.0 728.3L254.6 719.2L265.8 711.7L272.3 707.0ZM266.0 698.1L259.3 702.3L247.6 710.4L233.4 720.4L248.6 712.0L260.9 705.0L267.7 700.7ZM260.2 688.9L253.5 693.3L245.3 699.4L235.3 707.0L246.3 701.0L255.2 696.0L261.9 691.6ZM254.1 677.7L247.2 681.7L240.3 686.1L231.9 691.6L240.9 687.2L248.2 683.4L255.1 679.5ZM250.5 670.3L243.7 674.6L238.8 678.1L232.8 682.5L239.4 679.0L244.7 676.1L251.4 671.8ZM245.4 657.4L238.0 660.3L230.4 663.8L221.2 668.2L230.9 665.0L238.8 662.3L246.2 659.4ZM242.6 648.9L235.0 651.2L228.5 653.6L220.6 656.7L228.9 654.9L235.6 653.3L243.3 651.0ZM238.5 634.2L230.9 636.7L221.2 640.6L209.5 645.4L221.9 642.5L232.0 639.9L239.6 637.4ZM237.4 628.0L229.6 629.6L211.0 634.2L188.3 639.9L211.4 635.9L230.2 632.5L238.0 630.9ZM235.6 616.5L227.7 617.7L218.4 619.7L207.1 622.3L218.7 621.5L228.1 620.7L236.0 619.5ZM233.9 598.0L226.0 599.3L214.1 601.9L199.6 605.3L214.4 603.9L226.5 602.5L234.4 601.2ZM234.2 584.3L226.2 584.4L222.5 585.1L217.9 586.2L222.5 587.2L226.2 587.9L234.2 587.8ZM238.5 551.2L230.6 550.2L227.2 550.4L223.1 550.9L226.9 552.4L230.1 553.5L238.0 554.6ZM244.8 528.8L237.0 527.1L231.5 526.7L224.8 526.3L231.1 528.8L236.3 530.6L244.1 532.2ZM255.7 504.8L248.6 500.9L242.4 498.5L234.6 495.9L241.1 501.0L246.4 505.0L253.4 508.8ZM277.0 472.2L270.8 467.1L265.4 463.8L258.6 460.0L263.6 466.0L267.8 470.7L274.0 475.9ZM291.2 456.2L285.1 451.1L280.0 447.7L273.5 443.8L278.5 449.5L282.6 454.0L288.7 459.2ZM308.6 441.3L303.8 435.0L301.1 433.0L297.6 430.7L298.9 434.7L300.1 437.8L305.0 444.1ZM336.3 423.6L333.0 416.3L329.8 411.4L325.7 405.4L327.4 412.5L328.9 418.1L332.2 425.4ZM347.0 418.2L343.8 410.9L341.7 408.0L338.9 404.5L339.5 408.9L340.1 412.4L343.3 419.8ZM370.6 409.2L368.2 401.5L366.0 397.2L363.1 392.0L363.8 397.9L364.6 402.7L367.0 410.3ZM391.3 404.0L389.7 396.2L388.2 392.6L386.2 388.4L386.0 393.1L386.0 396.9L387.7 404.8ZM412.7 401.1L412.2 393.2L411.0 387.6L409.4 380.8L408.7 387.8L408.4 393.4L409.0 401.4ZM443.7 401.1L444.2 393.1L443.5 389.7L442.3 385.5L440.7 389.5L439.5 392.8L439.0 400.8ZM464.5 403.8L465.6 395.8L465.1 392.3L464.2 388.0L462.3 391.9L460.9 395.2L459.8 403.1ZM488.8 410.0L490.9 402.2L491.7 395.7L492.5 387.6L489.2 395.0L486.6 401.1L484.6 408.8ZM500.7 414.1L502.9 406.4L503.9 399.3L505.0 390.7L501.4 398.6L498.6 405.2L496.4 412.9ZM522.0 424.0L524.9 416.5L526.0 411.2L527.2 404.6L523.6 410.2L520.8 414.9L517.9 422.4ZM542.5 436.9L546.4 429.9L547.6 425.9L548.8 421.0L545.3 424.7L542.6 427.8L538.7 434.8ZM557.3 448.8L562.2 442.5L565.0 437.6L568.2 431.5L563.1 436.1L559.0 440.0L554.1 446.3ZM572.4 463.8L578.2 458.2L581.1 454.5L584.6 449.9L579.8 453.1L576.0 455.9L570.2 461.5ZM586.7 481.5L593.2 476.9L596.0 473.8L599.3 469.9L594.6 471.8L590.8 473.4L584.3 478.1ZM599.6 502.1L606.6 498.2L610.4 495.1L614.9 491.1L609.0 492.7L604.4 494.2L597.3 498.0ZM608.8 521.7L616.2 518.6L622.4 515.2L629.9 510.8L621.5 513.0L614.7 515.0L607.3 518.1ZM617.9 551.6L625.8 550.6L629.7 549.3L634.4 547.5L629.4 546.9L625.3 546.6L617.4 547.6ZM621.8 577.6L629.8 577.4L635.6 576.5L642.6 575.2L635.5 574.4L629.7 573.8L621.7 574.1ZM622.4 596.4L630.4 596.6L634.8 596.0L640.0 595.1L634.8 593.9L630.5 593.0L622.5 592.8ZM621.2 614.2L629.1 615.4L633.7 615.2L639.3 614.7L634.1 612.5L629.8 610.9L621.9 609.7ZM616.0 641.4L623.7 643.8L626.5 644.0L629.9 644.0L627.1 642.1L624.7 640.6L617.1 638.2ZM609.4 662.2L616.9 664.9L620.9 665.6L625.8 666.4L621.5 663.8L618.0 661.8L610.5 659.1ZM597.1 687.7L604.1 691.5L607.3 692.4L611.2 693.3L608.3 690.6L605.8 688.4L598.7 684.6ZM588.8 700.8L595.6 705.1L598.8 706.2L602.8 707.4L600.0 704.3L597.7 701.8L590.9 697.5ZM569.2 724.9L575.2 730.2L581.1 734.3L588.5 739.2L582.7 732.5L577.9 727.1L571.9 721.8ZM560.4 733.5L566.1 739.2L571.3 743.5L577.8 748.6L572.6 742.1L568.4 736.9L562.7 731.2ZM543.6 747.5L548.9 753.4L552.0 755.8L555.9 758.5L553.5 754.4L551.4 751.2L546.0 745.3ZM517.9 763.3L522.3 770.0L526.5 774.8L531.8 780.5L528.7 773.4L526.0 767.6L521.6 760.9ZM494.5 773.3L497.4 780.7L500.9 786.8L505.3 794.1L503.6 785.7L502.0 778.9L499.0 771.5ZM475.5 779.2L478.3 786.7L481.2 792.5L484.9 799.6L483.0 791.8L481.4 785.5L478.6 778.0ZM456.9 782.8L458.6 790.6L460.4 795.4L463.0 801.2L462.8 794.9L462.5 789.7L460.8 781.9ZM432.8 784.6L432.7 792.6L433.3 795.7L434.1 799.5L435.1 795.7L435.7 792.6L435.8 784.6ZM402.6 783.0L401.6 790.9L402.1 794.2L403.0 798.2L404.9 794.6L406.3 791.6L407.3 783.6ZM376.4 777.6L373.9 785.2L373.0 790.7L372.1 797.5L375.5 791.5L378.1 786.6L380.6 779.0ZM363.4 773.6L360.7 781.2L359.4 787.2L358.0 794.7L361.5 787.9L364.2 782.4L366.8 774.8ZM332.6 759.7L328.6 766.7L326.0 772.3L323.0 779.4L327.6 773.3L331.2 768.2L335.2 761.2ZM323.5 754.2L318.8 760.7L317.4 764.4L315.8 769.1L319.8 766.1L322.8 763.5L327.5 757.0ZM301.7 738.0L295.9 743.5L293.2 747.4L290.2 752.2L295.1 749.3L299.0 746.8L304.8 741.3ZM280.4 717.3L274.7 722.9L272.6 726.3L270.2 730.6L274.6 728.4L278.0 726.3L283.8 720.7ZM265.2 696.8L258.5 701.1L254.8 704.4L250.5 708.6L256.1 706.5L260.7 704.6L267.4 700.3ZM256.2 681.5L249.0 685.1L243.6 688.4L237.0 692.8L244.4 690.2L250.4 687.9L257.6 684.4ZM241.3 645.4L233.9 648.3L229.6 651.0L224.5 654.5L230.7 653.6L235.6 652.7L243.0 649.7ZM236.9 624.7L229.0 625.7L223.1 627.3L215.9 629.4L223.4 629.6L229.5 629.5L237.4 628.5Z" fill="#000" stroke="#000" stroke-width="0.5"/>
<path d="M383.4 815.2L375.4 814.6L353.5 813.7L326.7 812.7L353.3 816.0L375.1 818.5L383.1 819.1ZM383.6 810.9L375.6 810.2L353.4 809.1L326.3 808.1L353.2 811.8L375.2 814.6L383.2 815.3ZM384.1 804.6L376.2 803.5L354.4 801.6L327.6 799.6L354.0 804.7L375.5 808.6L383.5 809.6ZM385.1 796.6L377.2 795.3L360.3 793.5L339.5 791.7L359.8 796.4L376.4 800.0L384.3 801.3ZM386.3 788.5L378.4 787.4L357.4 785.3L331.6 783.1L357.0 787.9L377.8 791.7L385.7 792.8ZM387.6 782.5L379.7 781.2L354.8 777.7L324.4 773.6L354.4 779.9L379.1 784.9L387.0 786.3ZM389.1 776.6L381.4 774.8L359.5 770.4L332.8 765.3L359.0 772.7L380.4 778.7L388.2 780.5ZM390.6 771.2L382.9 769.3L362.7 765.3L338.0 760.6L362.1 767.6L381.9 773.2L389.7 775.1ZM392.8 764.8L385.1 762.5L365.8 757.6L342.1 751.9L364.9 760.6L383.6 767.5L391.2 769.8ZM395.2 758.4L387.6 755.7L367.3 749.6L342.4 742.3L366.5 752.0L386.2 759.7L393.8 762.3ZM398.5 750.2L391.0 747.4L374.1 742.2L353.3 736.2L373.0 745.1L389.2 752.1L396.8 754.9ZM401.4 744.0L394.0 740.9L375.7 734.4L353.2 726.8L374.4 737.4L391.9 745.9L399.3 749.0ZM403.5 740.0L396.3 736.6L381.3 730.3L362.8 722.8L380.3 732.3L394.7 739.9L402.0 743.3ZM407.4 732.8L400.2 729.3L376.9 718.9L348.3 706.5L375.6 721.7L397.9 733.9L405.1 737.5ZM411.2 726.2L403.9 722.9L379.6 712.8L349.7 700.8L378.2 715.8L401.6 727.9L408.8 731.3ZM413.0 723.8L406.0 719.9L396.3 715.5L384.3 710.3L395.1 717.6L404.1 723.4L411.1 727.3ZM417.8 717.1L411.0 712.7L395.8 703.8L377.1 693.2L394.6 705.8L408.9 716.0L415.6 720.4ZM420.8 712.8L414.1 708.5L390.9 694.3L362.4 677.3L389.5 696.6L411.7 712.2L418.4 716.5ZM425.9 706.4L419.3 701.8L395.5 686.7L366.1 668.5L393.6 689.4L416.3 706.3L422.9 710.8ZM429.4 702.5L423.1 697.6L405.2 685.1L383.1 670.2L403.2 687.6L419.9 701.8L426.2 706.6ZM433.3 698.1L427.1 693.1L409.7 680.2L388.1 664.5L407.9 682.4L424.2 696.8L430.4 701.8ZM437.2 694.2L431.3 688.9L418.3 678.5L402.3 665.9L416.6 680.4L428.4 692.1L434.4 697.4ZM441.9 689.6L436.0 684.2L422.8 673.2L406.6 659.9L420.9 675.2L432.8 687.6L438.7 693.1ZM445.6 686.2L439.7 680.7L421.8 665.1L399.7 646.2L419.9 667.0L436.7 684.0L442.5 689.4ZM451.2 681.4L445.8 675.5L433.2 662.8L417.6 647.5L431.4 664.5L442.9 678.2L448.3 684.1ZM456.2 677.3L450.8 671.4L437.8 658.2L421.7 642.2L435.8 659.9L447.5 674.3L452.8 680.3ZM459.4 674.8L454.1 668.8L436.7 650.2L415.1 627.7L434.5 652.1L450.6 671.9L455.9 677.9ZM465.4 670.5L460.2 664.3L446.7 649.3L430.1 631.0L445.0 650.7L457.3 666.8L462.5 672.9ZM471.6 666.4L467.0 659.8L450.9 638.6L430.9 612.7L448.5 640.2L463.1 662.6L467.7 669.2ZM474.9 664.2L470.2 657.8L457.4 641.7L441.6 622.1L455.4 643.2L466.8 660.2L471.5 666.7ZM482.2 659.9L477.8 653.2L465.2 635.4L449.4 613.7L462.9 636.9L474.0 655.7L478.4 662.4ZM485.6 658.1L481.7 651.2L471.2 634.5L458.2 614.3L469.2 635.6L478.4 653.0L482.4 660.0ZM490.0 655.7L486.0 648.8L478.9 637.9L470.0 624.6L476.9 639.0L482.7 650.7L486.7 657.6ZM496.2 652.8L492.9 645.5L482.8 625.7L470.3 601.7L480.6 626.8L489.1 647.2L492.5 654.5ZM502.8 649.6L499.4 642.4L491.8 628.1L482.3 610.8L489.6 629.2L495.7 644.2L499.1 651.4ZM506.1 648.4L503.3 640.9L496.3 624.1L487.5 603.6L494.2 624.9L499.8 642.2L502.6 649.7ZM514.0 645.0L510.9 637.7L504.6 625.5L496.6 610.7L501.9 626.7L506.4 639.6L509.5 647.0ZM517.0 644.1L514.3 636.5L503.8 609.1L490.8 575.6L501.6 609.9L510.6 637.9L513.2 645.4ZM522.8 642.0L520.1 634.5L510.5 610.2L498.5 580.6L507.7 611.2L515.4 636.1L518.1 643.7ZM530.3 639.7L528.0 632.1L519.3 606.9L508.5 576.2L516.6 607.7L523.4 633.5L525.7 641.1ZM535.7 638.2L533.7 630.5L528.4 613.8L521.7 593.5L526.1 614.5L529.8 631.5L531.9 639.3ZM541.2 636.9L539.5 629.1L534.2 609.3L527.4 585.1L531.4 609.9L534.9 630.1L536.6 637.9ZM549.2 635.1L547.6 627.2L541.3 603.0L533.4 573.4L538.1 603.7L542.2 628.4L543.9 636.2ZM553.0 634.4L551.8 626.5L546.2 598.9L539.1 565.1L542.9 599.4L546.3 627.4L547.5 635.3ZM558.3 633.4L557.0 625.5L553.5 610.8L548.9 593.0L550.5 611.4L552.0 626.4L553.4 634.2ZM565.8 632.4L565.3 624.5L562.7 601.2L559.3 572.7L560.0 601.3L560.9 624.8L561.4 632.8ZM569.6 631.9L568.9 623.9L565.5 596.8L561.2 563.7L562.9 597.1L564.5 624.4L565.2 632.3ZM576.1 631.3L575.9 623.4L574.4 602.9L572.4 578.0L571.7 603.0L571.4 623.5L571.6 631.5ZM582.1 630.9L582.1 622.9L580.9 593.7L579.1 557.9L578.0 593.7L577.2 623.0L577.3 631.0ZM589.8 630.5L589.7 622.5L588.3 598.1L586.2 568.3L584.9 598.2L584.1 622.6L584.2 630.6ZM596.0 630.5L596.3 622.5L596.4 594.9L596.4 561.2L593.8 594.8L591.9 622.3L591.6 630.3ZM600.3 630.6L600.9 622.6L600.9 605.9L600.6 585.5L597.6 605.7L595.3 622.2L594.8 630.2ZM608.1 630.8L608.8 622.8L609.2 610.9L609.5 596.2L607.0 610.7L605.1 622.5L604.4 630.4ZM613.8 631.1L614.6 623.2L616.1 600.1L617.6 571.8L613.8 599.8L610.8 622.8L610.0 630.8ZM618.3 631.6L619.4 623.6L621.8 598.9L624.4 568.6L618.9 598.5L614.6 623.0L613.5 630.9ZM626.3 632.5L627.8 624.6L631.5 600.5L635.8 571.0L629.1 600.1L623.9 623.9L622.4 631.7ZM631.1 633.2L632.8 625.4L636.3 605.6L640.3 581.4L633.6 605.0L628.3 624.4L626.5 632.2ZM638.3 634.4L640.2 626.6L644.1 606.8L648.8 582.5L642.0 606.3L636.6 625.7L634.8 633.5ZM645.5 635.7L647.3 627.9L650.1 609.8L653.4 587.7L646.9 609.1L641.9 626.7L640.2 634.5ZM650.8 637.0L652.9 629.3L656.5 611.9L660.5 590.5L653.3 611.0L647.6 627.8L645.5 635.6ZM654.3 637.9L656.7 630.3L660.9 613.5L665.8 592.9L658.1 612.6L651.9 628.8L649.5 636.4ZM662.8 640.2L665.4 632.7L672.6 609.0L681.2 580.0L670.2 608.2L661.5 631.3L658.9 638.9ZM667.3 641.7L670.4 634.3L680.0 608.0L691.5 575.7L677.2 606.8L665.7 632.4L662.6 639.8ZM673.4 643.7L676.3 636.2L682.0 620.0L688.6 600.1L679.8 619.1L672.7 634.8L669.7 642.2ZM676.9 645.0L680.2 637.7L687.0 620.9L695.2 600.3L685.1 620.0L676.9 636.2L673.6 643.5ZM685.1 648.2L688.6 641.0L699.0 616.7L711.5 586.8L696.4 615.4L684.3 639.0L680.8 646.2ZM690.8 650.6L694.2 643.4L704.9 618.6L717.8 588.3L702.3 617.4L689.9 641.3L686.5 648.6ZM695.6 652.8L699.1 645.7L710.8 619.7L724.8 587.9L708.0 618.3L694.4 643.3L690.8 650.5ZM699.0 654.5L702.7 647.4L713.1 625.2L725.6 598.0L710.9 624.1L699.1 645.5L695.5 652.7ZM706.6 658.6L710.8 651.7L716.8 640.1L723.9 625.7L714.3 638.6L706.7 649.2L702.5 656.1ZM712.7 661.9L716.7 655.0L727.5 634.6L740.4 609.5L725.0 633.2L712.7 652.6L708.6 659.5ZM716.7 664.3L720.8 657.5L732.5 636.2L746.5 610.1L729.8 634.6L716.4 654.8L712.2 661.6ZM722.7 668.2L727.1 661.5L741.3 638.2L758.3 609.4L738.5 636.3L722.5 658.5L718.1 665.2ZM727.2 671.4L732.0 665.0L742.0 650.1L754.1 631.7L739.9 648.5L728.5 662.4L723.7 668.8ZM730.7 673.7L735.0 666.9L741.5 654.9L749.3 640.2L739.3 653.5L731.3 664.6L727.1 671.3ZM737.0 678.6L741.9 672.3L749.3 661.4L758.1 647.9L747.3 659.9L738.6 669.8L733.7 676.1ZM739.7 680.6L744.3 674.1L759.0 651.8L776.8 624.5L757.1 650.5L741.1 671.8L736.5 678.4ZM745.9 686.0L750.8 679.7L765.4 659.6L783.0 634.9L763.3 658.0L747.3 676.9L742.3 683.2ZM748.9 688.9L754.2 683.0L771.0 662.9L791.3 638.1L768.7 660.8L750.4 679.5L745.1 685.5ZM754.1 693.8L759.5 687.9L770.6 674.4L784.0 657.8L768.5 672.6L756.1 684.8L750.7 690.7ZM759.5 699.4L764.9 693.5L778.9 677.5L795.9 657.7L777.2 675.9L762.1 690.8L756.6 696.7ZM763.9 704.5L769.8 699.1L783.3 685.3L799.6 668.3L781.2 683.0L766.3 695.3L760.4 700.7ZM767.5 708.8L773.6 703.6L793.1 685.5L816.7 663.0L790.9 682.9L770.0 699.4L763.9 704.6ZM771.5 713.9L777.7 708.8L796.5 692.6L819.2 672.7L795.0 690.8L775.3 705.8L769.1 710.9ZM774.4 717.6L780.5 712.3L801.8 692.6L827.8 668.3L799.9 690.4L777.3 708.7L771.3 713.9ZM778.6 723.7L785.0 718.8L807.3 700.4L834.4 677.6L805.4 698.0L781.9 714.8L775.5 719.7ZM781.8 728.7L788.3 723.9L795.6 717.4L804.4 709.3L794.1 715.4L785.8 720.5L779.3 725.3ZM784.2 732.8L790.9 728.3L809.2 714.8L831.5 698.0L807.4 712.1L787.9 723.8L781.2 728.2ZM788.4 740.3L795.2 735.9L804.8 728.7L816.4 719.7L803.5 726.7L793.0 732.5L786.2 736.9ZM791.7 746.8L798.5 742.6L816.8 730.3L838.9 715.2L815.5 728.3L796.4 739.1L789.6 743.3ZM793.3 750.0L800.2 746.0L816.7 735.2L836.6 721.7L815.0 732.3L797.4 741.2L790.5 745.2ZM796.3 757.3L803.4 753.6L829.2 739.4L860.6 721.8L828.1 737.3L801.6 750.2L794.5 753.8ZM798.7 763.7L806.0 760.5L824.6 751.2L847.2 739.6L823.4 748.6L804.0 756.1L796.7 759.4ZM800.9 770.3L808.3 767.1L823.4 759.5L841.8 750.1L822.4 757.2L806.6 763.2L799.2 766.4ZM802.6 776.5L810.2 773.9L819.2 769.7L830.2 764.2L818.2 766.6L808.5 768.9L800.9 771.5ZM803.7 780.7L811.3 778.3L827.8 772.2L847.9 764.5L827.0 769.7L810.0 774.2L802.4 776.6ZM805.4 788.4L813.2 786.3L838.1 778.5L868.4 768.6L837.2 775.4L811.8 781.2L804.0 783.3ZM806.7 795.2L814.4 793.3L841.8 785.7L875.1 776.1L841.2 783.3L813.4 789.3L805.7 791.2ZM807.4 801.1L815.3 799.7L840.8 794.0L871.8 786.8L840.2 790.9L814.4 794.5L806.5 795.9ZM808.2 808.0L816.1 806.6L829.9 803.1L846.6 798.6L829.3 800.2L815.2 801.7L807.3 803.1ZM808.5 815.7L816.5 815.2L835.7 812.8L859.1 809.6L835.5 809.8L816.1 810.3L808.2 810.8ZM808.7 819.7L816.7 819.1L833.2 816.8L853.5 813.7L833.0 813.9L816.3 814.3L808.3 815.0ZM808.5 825.4L816.5 825.5L843.0 825.0L875.3 824.1L843.0 822.5L816.6 821.4L808.6 821.3ZM808.2 834.2L816.2 834.5L834.7 834.3L857.4 833.8L834.8 831.6L816.3 830.0L808.3 829.8ZM807.4 842.3L815.3 843.2L827.2 843.3L841.7 843.1L827.5 840.0L815.9 837.7L807.9 836.8ZM806.5 848.5L814.4 849.6L833.0 851.6L855.7 853.7L833.3 849.2L815.0 845.6L807.1 844.5ZM805.8 852.7L813.8 853.9L823.1 854.5L834.6 855.1L823.5 852.1L814.4 849.9L806.5 848.7ZM804.0 861.6L811.8 863.3L828.4 866.1L848.6 869.2L828.9 863.7L812.6 859.4L804.8 857.7ZM802.5 867.0L810.2 869.2L824.3 872.5L841.7 876.2L825.1 870.0L811.4 865.2L803.7 862.9ZM801.0 872.4L808.7 874.8L824.6 878.9L844.2 883.6L825.4 876.5L809.9 870.8L802.3 868.4ZM798.8 879.3L806.2 882.1L815.5 884.7L827.0 887.8L816.4 882.6L807.6 878.5L800.1 875.7ZM797.3 883.2L804.8 886.1L830.8 895.6L862.8 906.9L831.9 893.0L806.5 881.9L799.1 878.9ZM794.6 890.1L801.9 893.4L817.5 899.7L836.6 907.2L818.4 897.7L803.4 890.1L796.1 886.8ZM792.1 895.8L799.2 899.4L821.7 909.6L849.1 922.0L822.6 907.7L800.8 896.1L793.7 892.6ZM789.1 902.0L796.1 905.7L811.3 912.6L830.1 920.7L812.9 909.7L798.7 900.9L791.6 897.1ZM786.0 907.5L792.8 911.8L814.6 924.5L841.4 939.7L816.3 921.8L795.6 907.3L788.9 903.0ZM782.4 913.8L789.1 918.2L812.3 932.0L840.7 948.6L813.9 929.5L791.9 914.0L785.1 909.6ZM780.4 917.1L787.0 921.6L811.5 937.8L841.7 957.3L813.0 935.7L789.4 918.2L782.8 913.6ZM776.0 923.6L782.4 928.5L798.0 939.4L817.1 952.5L799.6 937.3L785.1 925.0L778.7 920.1ZM773.1 927.6L779.3 932.8L799.3 948.6L824.0 967.8L800.9 946.7L781.9 929.7L775.7 924.5ZM770.2 931.6L776.4 936.7L785.0 942.5L795.6 949.5L786.8 940.4L779.4 933.0L773.2 927.9ZM766.9 935.7L772.9 941.1L788.0 953.8L806.7 969.2L789.6 952.1L775.4 938.3L769.5 932.9ZM761.4 942.2L767.0 947.8L779.6 959.5L795.2 973.5L781.2 957.9L769.6 945.2L764.0 939.5ZM757.4 946.5L762.9 952.3L783.4 972.6L808.5 997.2L785.1 970.9L765.8 949.6L760.2 943.8ZM754.0 949.9L759.2 955.9L771.9 969.1L787.7 985.1L774.2 967.2L763.0 952.6L757.8 946.6ZM748.5 955.4L753.8 961.3L766.7 974.7L782.6 990.9L768.3 973.2L756.5 958.9L751.2 952.9ZM745.9 957.7L751.0 963.8L764.0 977.9L780.1 994.9L766.1 976.1L754.5 960.9L749.4 954.8ZM739.4 963.2L744.3 969.6L759.6 988.1L778.6 1010.6L762.0 986.3L748.3 966.5L743.4 960.2ZM737.1 965.1L741.8 971.6L758.3 993.2L778.7 1019.5L760.6 991.6L745.6 968.9L740.9 962.3ZM732.3 969.0L737.0 975.4L751.3 992.6L769.0 1013.6L754.0 990.7L741.5 972.1L736.7 965.7ZM725.5 973.8L729.9 980.5L746.2 1003.0L766.3 1030.4L748.6 1001.4L734.0 977.7L729.6 971.1ZM722.7 975.6L726.7 982.5L735.8 996.4L747.0 1013.3L738.1 995.1L730.6 980.3L726.6 973.3ZM715.6 980.3L719.7 987.2L726.5 996.8L735.1 1008.4L729.2 995.2L724.1 984.5L720.0 977.7ZM712.6 982.1L716.5 989.1L726.7 1005.4L739.3 1025.2L728.8 1004.2L720.0 987.1L716.1 980.1ZM706.8 985.4L710.6 992.5L723.4 1014.6L739.2 1041.5L725.6 1013.4L714.4 990.4L710.6 983.4ZM701.7 988.1L705.1 995.3L712.3 1008.8L721.4 1025.1L714.6 1007.7L708.8 993.6L705.4 986.3ZM696.6 990.8L700.3 997.9L709.7 1014.0L721.4 1033.6L712.1 1012.8L704.3 995.8L700.6 988.7ZM690.9 993.4L694.1 1000.7L703.9 1021.5L716.2 1046.8L706.1 1020.5L697.7 999.1L694.5 991.8ZM684.2 996.3L687.5 1003.6L698.5 1025.3L712.1 1051.7L701.5 1023.9L692.6 1001.4L689.3 994.1ZM681.3 997.4L684.1 1004.9L688.3 1014.2L693.6 1025.5L690.4 1013.4L687.6 1003.6L684.9 996.1ZM672.9 1000.6L675.5 1008.1L681.0 1020.8L688.0 1036.1L684.1 1019.7L680.7 1006.3L678.2 998.7ZM667.5 1002.4L670.0 1010.0L677.5 1030.1L687.0 1054.6L680.2 1029.2L674.5 1008.5L672.0 1000.9ZM661.2 1004.4L663.6 1012.0L672.5 1036.1L683.6 1065.5L675.4 1035.2L668.4 1010.5L665.9 1002.9ZM658.3 1005.1L660.4 1012.9L667.1 1033.7L675.4 1059.2L669.4 1033.1L664.3 1011.8L662.2 1004.1ZM652.0 1006.9L654.1 1014.6L658.6 1027.0L664.2 1042.1L661.4 1026.2L658.8 1013.3L656.7 1005.6ZM646.0 1008.3L648.1 1016.0L656.5 1043.8L667.1 1077.7L659.5 1043.0L653.0 1014.7L650.9 1007.0ZM638.2 1009.8L639.9 1017.6L645.0 1036.9L651.3 1060.4L647.1 1036.4L643.5 1016.8L641.8 1009.0ZM632.1 1010.9L633.7 1018.8L639.5 1042.2L646.9 1070.9L642.5 1041.6L638.7 1017.7L637.1 1009.9ZM627.8 1011.5L629.2 1019.4L633.6 1038.3L639.3 1061.3L636.3 1037.8L633.7 1018.6L632.3 1010.7ZM620.1 1012.4L621.2 1020.4L626.0 1047.9L632.1 1081.5L628.6 1047.5L625.5 1019.7L624.4 1011.8ZM613.2 1013.0L614.1 1021.0L618.0 1048.9L622.9 1082.9L620.5 1048.6L618.4 1020.5L617.5 1012.6ZM607.6 1013.4L608.4 1021.4L611.8 1047.6L616.1 1079.6L614.2 1047.4L612.5 1021.0L611.8 1013.0ZM601.3 1013.8L602.2 1021.7L605.8 1044.6L610.3 1072.5L608.8 1044.3L607.2 1021.2L606.4 1013.2ZM597.0 1013.9L597.8 1021.8L601.3 1045.6L605.8 1074.6L604.2 1045.3L602.6 1021.3L601.8 1013.4ZM591.1 1013.6L591.3 1021.6L592.8 1048.5L594.9 1081.3L595.4 1048.4L595.6 1021.5L595.4 1013.5ZM583.8 1013.4L584.0 1021.4L585.2 1040.8L586.9 1064.4L587.9 1040.7L588.4 1021.4L588.3 1013.4ZM577.1 1013.1L577.2 1021.1L578.2 1046.0L579.7 1076.5L581.0 1046.0L581.8 1021.0L581.8 1013.0ZM572.0 1012.6L571.8 1020.6L572.0 1048.5L572.5 1082.6L574.9 1048.6L576.7 1020.7L577.0 1012.7ZM566.3 1011.9L566.0 1019.9L565.9 1045.3L565.9 1076.3L568.1 1045.4L569.8 1020.1L570.1 1012.1ZM561.4 1011.2L560.7 1019.2L560.7 1028.3L561.0 1039.6L563.3 1028.6L565.0 1019.5L565.7 1011.6ZM554.8 1010.1L553.9 1018.1L552.3 1040.3L550.5 1067.4L554.7 1040.5L558.0 1018.5L558.8 1010.6ZM548.8 1009.0L547.6 1016.9L546.7 1028.9L545.9 1043.6L549.4 1029.3L552.0 1017.5L553.2 1009.6ZM541.1 1007.4L539.9 1015.3L536.5 1044.4L532.8 1080.1L539.7 1044.9L545.1 1016.1L546.3 1008.2ZM535.6 1006.0L534.3 1013.9L532.4 1030.5L530.4 1050.9L535.4 1031.1L539.4 1014.8L540.7 1006.9ZM532.1 1004.9L530.4 1012.8L525.1 1041.1L518.9 1075.9L527.7 1041.7L534.7 1013.7L536.5 1005.9ZM525.3 1002.9L523.5 1010.7L518.7 1033.6L513.1 1061.7L521.0 1034.2L527.3 1011.6L529.2 1003.8ZM520.4 1001.2L518.1 1008.9L516.3 1017.9L514.3 1028.9L518.5 1018.5L521.7 1009.9L523.9 1002.2ZM515.9 999.6L513.4 1007.2L510.7 1018.8L507.5 1032.9L513.0 1019.5L517.4 1008.5L519.8 1000.9ZM510.4 997.7L508.1 1005.3L504.2 1021.9L499.7 1042.1L507.4 1022.8L513.4 1007.0L515.7 999.3ZM506.0 995.8L503.4 1003.4L495.8 1027.3L486.8 1056.6L498.1 1028.1L507.3 1004.7L509.9 997.2ZM499.4 992.9L496.5 1000.4L493.4 1011.3L489.8 1024.8L496.5 1012.5L501.7 1002.4L504.6 995.0ZM494.5 990.5L491.2 997.8L483.4 1017.0L474.1 1040.5L485.7 1018.0L495.1 999.6L498.4 992.3ZM489.3 988.0L486.1 995.3L477.7 1016.0L467.6 1041.3L479.8 1016.9L489.6 996.9L492.9 989.5ZM485.7 985.9L481.9 992.9L472.8 1011.7L461.9 1034.8L475.6 1013.2L486.5 995.5L490.4 988.5ZM481.8 983.8L478.2 991.0L475.3 998.5L471.9 1007.7L477.5 999.6L481.9 992.9L485.6 985.8ZM476.2 980.5L472.2 987.4L458.8 1012.4L442.6 1043.2L461.4 1014.0L476.6 989.9L480.6 983.0ZM471.7 977.7L467.6 984.6L463.4 993.7L458.6 1005.1L466.2 995.4L472.3 987.3L476.4 980.5ZM468.5 975.4L464.0 982.1L452.0 1001.7L437.6 1025.9L454.6 1003.4L468.3 984.9L472.7 978.3ZM464.4 972.7L460.1 979.5L452.6 992.6L443.7 1008.8L454.5 993.8L463.2 981.4L467.5 974.7ZM457.6 967.6L452.8 974.0L437.3 996.5L418.6 1024.1L439.9 998.4L457.1 977.2L461.9 970.8ZM454.8 965.5L450.0 971.9L436.3 991.7L419.8 1016.2L438.9 993.6L454.2 975.1L459.1 968.7ZM451.0 962.4L446.0 968.6L439.9 977.9L432.8 989.4L442.5 979.9L450.2 972.0L455.2 965.7ZM447.2 959.1L442.2 965.4L433.3 977.8L422.8 993.1L435.5 979.5L445.7 968.2L450.7 962.0ZM443.3 955.3L437.5 960.8L424.0 975.5L407.7 993.5L426.3 977.8L441.3 964.8L447.1 959.2ZM439.4 951.9L434.0 957.7L423.0 970.8L409.8 986.9L425.0 972.6L437.3 960.8L442.8 955.0ZM436.8 949.1L431.0 954.7L417.2 969.8L400.4 988.4L419.4 972.1L434.7 958.5L440.5 952.9ZM431.7 943.9L425.9 949.4L410.8 964.8L392.5 983.8L412.7 966.8L429.1 952.8L434.9 947.3ZM430.0 941.8L423.9 947.0L401.9 966.5L375.1 990.6L403.3 968.2L426.2 949.8L432.3 944.7ZM425.5 936.6L419.1 941.4L401.9 955.6L380.9 973.1L403.5 957.7L421.8 945.0L428.2 940.2ZM422.8 933.2L416.3 937.9L398.0 952.4L375.8 970.4L399.8 954.8L419.2 941.9L425.7 937.2ZM420.1 929.8L413.6 934.4L397.3 947.2L377.6 963.1L399.1 949.8L416.7 938.8L423.2 934.1ZM417.1 925.6L410.4 930.0L396.5 940.2L379.7 953.0L398.2 942.9L413.3 934.4L420.0 930.1ZM412.3 918.6L405.4 922.7L388.7 933.9L368.4 947.8L390.2 936.4L408.0 926.9L414.8 922.8ZM409.4 914.0L402.4 917.9L391.1 925.3L377.3 934.6L392.5 927.9L404.8 922.2L411.8 918.3ZM407.6 911.1L400.6 915.0L380.6 927.4L356.2 942.9L382.2 930.2L403.3 919.7L410.3 915.8ZM405.2 906.7L398.0 910.3L388.5 915.9L377.0 923.0L389.6 918.0L399.7 913.7L406.9 910.2ZM402.0 900.6L394.7 903.7L370.0 915.0L339.9 929.0L371.0 917.4L396.3 907.7L403.7 904.6ZM399.2 894.8L391.8 897.7L366.9 908.6L336.6 922.2L368.0 911.3L393.6 902.2L401.0 899.3ZM396.9 889.4L389.4 892.2L371.3 899.9L349.2 909.6L372.2 902.5L391.0 896.6L398.5 893.8ZM395.2 885.2L387.5 887.5L379.6 890.8L369.9 895.1L380.3 893.1L388.7 891.4L396.4 889.0ZM393.3 880.4L385.7 882.9L363.8 891.1L337.1 901.5L364.6 893.7L387.1 887.1L394.7 884.6ZM391.6 875.2L383.9 877.5L358.9 885.8L328.5 896.1L359.6 888.0L385.0 881.2L392.7 879.0ZM389.6 868.4L381.8 870.3L364.1 875.5L342.6 882.1L364.7 878.1L382.8 874.6L390.6 872.7ZM387.6 861.0L379.8 862.7L365.6 867.0L348.2 872.5L366.3 870.2L381.0 868.0L388.8 866.3ZM386.9 857.1L379.0 858.2L354.7 862.6L325.1 868.3L355.1 865.3L379.6 862.7L387.5 861.5ZM385.8 851.4L377.9 852.2L353.2 855.5L323.1 859.8L353.5 858.2L378.3 856.7L386.3 855.9ZM384.3 841.2L376.3 842.0L355.5 845.1L330.2 849.2L355.8 848.0L376.8 846.8L384.8 846.0ZM383.8 836.2L375.8 836.6L366.1 837.9L354.3 839.6L366.2 840.2L376.0 840.5L384.0 840.1ZM383.4 830.0L375.4 830.1L352.8 831.1L325.2 832.6L352.8 833.6L375.5 834.3L383.5 834.3ZM383.3 824.9L375.3 824.6L354.5 824.9L329.1 825.4L354.4 827.3L375.2 828.7L383.2 828.9ZM383.2 820.5L375.2 819.7L365.0 819.2L352.6 818.7L364.9 820.4L375.1 821.8L383.0 822.5ZM383.9 806.2L376.0 805.0L359.4 803.1L339.1 800.8L359.2 804.6L375.7 807.5L383.6 808.7ZM385.4 794.8L377.6 793.0L364.1 790.4L347.5 787.4L363.7 792.1L376.9 795.9L384.7 797.7ZM386.7 787.5L378.9 785.5L368.5 783.2L355.7 780.5L368.2 784.3L378.4 787.4L386.2 789.4ZM389.6 775.4L382.1 772.7L371.5 769.7L358.5 766.0L371.0 771.2L381.2 775.3L388.7 777.9ZM391.9 767.8L384.3 765.1L366.1 759.1L343.8 752.0L365.7 760.4L383.6 767.3L391.1 770.0ZM396.6 755.2L389.4 751.7L374.8 745.5L356.8 738.0L374.0 747.2L388.0 754.5L395.3 758.0ZM400.9 745.4L393.9 741.7L377.1 733.5L356.5 723.6L376.2 735.1L392.5 744.3L399.5 748.1ZM405.2 737.1L398.5 732.9L394.1 730.8L388.6 728.4L393.1 732.2L396.9 735.3L403.7 739.6ZM410.6 728.0L404.0 723.5L396.8 719.5L388.0 714.7L395.7 721.1L402.1 726.3L408.7 730.8ZM415.4 720.5L408.7 716.2L395.5 708.2L379.3 698.7L394.6 709.7L407.1 718.5L413.8 722.9ZM420.6 713.4L414.2 708.6L404.3 701.9L392.2 693.8L403.5 703.1L412.7 710.6L419.1 715.4ZM426.0 706.7L419.9 701.5L412.7 696.2L403.8 689.7L411.7 697.3L418.3 703.4L424.4 708.6ZM434.1 697.6L428.0 692.4L420.2 686.2L410.7 678.8L419.5 687.1L426.7 693.8L432.8 699.0ZM439.4 692.1L433.6 686.6L424.3 678.8L412.9 669.5L423.1 680.1L431.6 688.8L437.5 694.2ZM447.6 684.6L442.4 678.6L432.7 668.3L420.9 655.9L431.6 669.3L440.5 680.2L445.8 686.2ZM453.6 679.5L448.3 673.5L440.9 666.0L431.6 657.0L439.4 667.3L445.9 675.6L451.2 681.6ZM462.6 672.6L457.8 666.2L452.6 660.2L446.0 652.8L451.3 661.1L455.7 667.8L460.5 674.2ZM470.3 667.2L465.2 661.0L452.5 646.4L436.9 628.7L451.4 647.3L463.3 662.5L468.4 668.7ZM478.1 662.4L473.8 655.7L467.5 646.8L459.7 636.0L466.3 647.6L471.8 657.0L476.1 663.7ZM483.0 659.5L478.5 652.8L468.3 638.5L455.6 621.1L466.9 639.4L476.3 654.3L480.8 660.9ZM495.2 653.1L491.3 646.2L486.3 638.2L480.1 628.5L485.2 638.8L489.5 647.2L493.4 654.2ZM499.6 651.0L495.9 644.0L486.1 626.8L473.9 605.9L484.5 627.6L493.3 645.3L497.1 652.4ZM507.8 647.5L504.2 640.3L495.2 623.2L484.0 602.3L494.1 623.7L502.5 641.2L506.1 648.4ZM517.2 643.9L514.3 636.5L511.0 629.8L506.9 621.6L509.6 630.4L511.8 637.5L514.8 644.9ZM528.8 640.2L526.3 632.6L522.7 623.2L518.2 611.9L521.2 623.7L523.9 633.3L526.4 640.9ZM538.4 637.2L535.1 629.9L527.3 613.2L517.6 592.8L526.0 613.7L533.0 630.9L536.2 638.2ZM543.7 636.3L542.0 628.4L540.3 622.8L538.1 615.9L539.0 623.1L539.8 628.9L541.5 636.7ZM557.4 633.5L555.8 625.7L553.1 616.1L549.8 604.5L551.4 616.5L552.9 626.3L554.5 634.1ZM564.5 632.5L563.5 624.6L560.7 604.8L557.1 580.8L559.4 605.0L561.3 624.8L562.3 632.8ZM571.1 631.7L570.1 623.7L567.9 609.5L565.1 592.1L566.5 609.7L567.8 624.0L568.7 632.0ZM583.5 630.8L583.8 622.8L583.6 615.3L583.3 606.1L582.3 615.2L581.7 622.7L581.4 630.7ZM594.5 630.4L594.3 622.4L593.4 612.7L592.1 600.9L591.6 612.8L591.4 622.5L591.6 630.5ZM603.4 630.5L603.3 622.5L602.7 612.7L601.9 600.9L601.4 612.8L601.1 622.5L601.2 630.5ZM614.6 631.0L614.4 623.0L613.7 613.2L612.7 601.3L612.1 613.2L611.7 623.0L611.9 631.0ZM623.6 632.0L624.3 624.0L624.7 612.5L625.0 598.3L622.8 612.3L621.2 623.7L620.5 631.7ZM633.1 633.3L634.1 625.4L634.5 617.8L634.7 608.6L632.5 617.6L630.9 625.0L629.8 632.9ZM638.2 634.3L639.8 626.4L641.8 613.8L644.2 598.4L640.5 613.6L637.6 626.0L636.1 633.8ZM647.3 635.9L648.3 628.0L650.2 609.2L652.4 586.3L648.4 609.0L645.3 627.6L644.2 635.5ZM659.0 639.1L661.3 631.4L665.2 617.2L669.8 599.8L664.0 616.9L659.3 630.8L657.0 638.5ZM667.8 641.7L670.4 634.2L671.6 628.8L672.9 622.2L669.8 628.2L667.4 633.1L664.7 640.7ZM675.1 644.2L678.0 636.8L683.0 622.5L689.0 605.0L681.8 622.1L676.1 636.0L673.2 643.5ZM684.2 647.7L687.0 640.2L689.6 631.9L692.8 621.8L688.5 631.5L685.1 639.5L682.3 647.0ZM692.2 651.3L696.1 644.3L701.1 634.6L707.2 622.6L700.2 634.0L694.5 643.4L690.6 650.4ZM701.5 655.6L704.8 648.3L709.7 636.0L715.6 620.8L708.1 635.2L702.1 647.1L698.8 654.4ZM709.9 660.3L714.3 653.7L717.8 647.7L722.0 640.3L716.8 647.0L712.7 652.6L708.3 659.2ZM716.8 664.4L721.5 658.0L731.5 643.9L743.6 626.5L730.5 643.1L719.8 656.8L715.1 663.2ZM722.3 668.0L727.4 661.9L735.0 652.1L744.2 640.1L734.0 651.3L725.7 660.5L720.6 666.6ZM731.8 674.8L736.9 668.6L745.4 657.4L755.7 643.6L744.2 656.4L734.9 666.9L729.9 673.1ZM740.4 681.5L745.9 675.7L756.4 663.7L769.1 649.0L755.1 662.6L743.8 673.8L738.3 679.6ZM746.7 687.0L752.3 681.3L759.2 673.6L767.6 664.1L758.1 672.5L750.4 679.4L744.7 685.1ZM753.6 693.5L759.4 688.1L769.2 678.1L781.0 665.9L768.0 676.8L757.4 685.9L751.5 691.3ZM761.4 701.8L767.6 696.8L773.4 691.3L780.3 684.5L772.2 689.9L765.6 694.3L759.4 699.4ZM768.0 709.3L773.9 703.9L779.0 698.4L785.1 691.7L777.8 697.2L771.9 701.8L766.0 707.2ZM771.9 714.6L778.6 710.2L786.3 704.5L795.7 697.3L785.4 703.1L777.1 707.9L770.4 712.3ZM778.9 724.5L786.0 720.9L801.4 712.7L820.2 702.5L800.8 711.5L785.0 719.0L777.9 722.6ZM784.7 733.7L791.4 729.3L805.5 719.7L822.6 707.7L804.5 718.2L789.8 726.9L783.1 731.2ZM787.9 739.7L795.0 736.1L804.0 731.1L814.9 724.8L803.5 730.0L794.1 734.3L787.0 737.9ZM792.9 749.8L800.1 746.5L805.7 743.4L812.5 739.6L805.2 742.3L799.3 744.6L792.0 747.9ZM796.4 758.1L803.7 754.8L808.5 752.3L814.3 749.1L808.0 751.2L802.9 753.1L795.6 756.3ZM800.3 769.1L807.9 766.5L815.7 763.4L825.2 759.5L815.3 762.3L807.2 764.7L799.7 767.3ZM803.6 780.0L811.1 777.2L829.9 769.4L852.8 759.7L829.2 767.6L810.0 774.2L802.5 777.1ZM805.4 788.3L813.1 786.1L819.4 783.7L827.1 780.5L818.9 781.8L812.2 782.9L804.5 785.1ZM807.3 800.4L815.2 799.0L827.1 796.1L841.8 792.3L826.8 794.2L814.6 795.8L806.7 797.3ZM807.9 805.9L815.8 804.6L828.1 802.2L843.1 799.1L827.9 801.0L815.4 802.6L807.5 803.8ZM808.7 816.3L816.6 815.0L826.9 812.8L839.6 809.8L826.7 810.9L816.1 812.0L808.2 813.2ZM808.6 825.6L816.6 825.2L831.2 823.8L848.9 822.0L831.1 821.9L816.5 822.0L808.5 822.3ZM807.6 841.0L815.6 841.2L836.2 841.2L861.4 841.1L836.2 840.1L815.6 839.3L807.6 839.2ZM806.8 847.9L814.7 848.3L827.8 848.5L843.8 848.5L827.9 846.8L814.9 845.6L806.9 845.2ZM804.5 860.1L812.5 860.9L820.5 861.3L830.4 861.5L820.7 859.7L812.7 858.3L804.8 857.5ZM801.8 870.5L809.6 872.0L825.9 874.8L845.9 878.0L826.2 873.4L810.1 869.7L802.2 868.2ZM798.1 881.9L805.9 883.8L821.6 886.9L840.8 890.5L822.0 884.9L806.7 880.5L798.9 878.6ZM794.9 889.8L802.5 892.4L813.8 895.7L827.8 899.6L814.4 894.1L803.3 889.8L795.8 887.3ZM791.8 897.4L799.4 899.7L807.4 901.3L817.2 903.1L808.0 899.3L800.4 896.4L792.7 894.2ZM787.8 904.5L795.0 908.1L806.8 913.5L821.2 919.9L807.5 912.0L796.2 905.6L789.1 902.0ZM783.7 911.9L790.8 915.7L799.6 919.9L810.4 924.8L800.4 918.4L792.1 913.3L785.0 909.5ZM777.0 922.4L783.8 926.7L800.1 936.5L820.2 948.2L801.2 934.8L785.5 924.0L778.8 919.7ZM772.9 928.2L779.5 932.8L787.7 937.7L797.9 943.6L788.8 936.1L781.3 930.1L774.8 925.5ZM766.1 936.9L772.2 942.0L780.1 947.7L790.0 954.6L781.4 946.2L774.3 939.4L768.2 934.3ZM759.8 943.9L765.4 949.6L772.4 955.7L780.9 963.1L773.7 954.4L767.7 947.4L762.1 941.7ZM754.9 949.1L760.2 955.1L765.4 960.4L771.9 966.8L766.5 959.4L762.0 953.5L756.8 947.5ZM749.1 954.8L754.4 960.8L761.7 968.2L770.7 977.2L762.8 967.3L756.2 959.2L750.9 953.2ZM741.1 961.9L746.1 968.2L749.4 971.5L753.5 975.4L750.5 970.5L748.1 966.6L743.1 960.3ZM733.5 968.0L737.9 974.7L748.6 989.6L761.6 1007.7L749.6 988.9L739.6 973.5L735.1 966.9ZM726.4 973.2L730.5 980.0L737.3 989.8L745.6 1001.7L738.9 988.8L733.2 978.4L729.1 971.5ZM719.9 977.6L723.7 984.6L728.2 991.9L733.8 1000.8L729.4 991.3L725.7 983.5L721.8 976.5ZM709.4 983.9L712.9 991.1L716.6 997.4L721.2 1004.9L718.2 996.6L715.6 989.8L712.2 982.6ZM705.8 986.0L709.1 993.2L715.8 1006.8L724.0 1023.2L716.9 1006.2L711.1 992.3L707.7 985.1ZM693.9 992.0L697.0 999.3L704.7 1016.2L714.2 1036.9L706.1 1015.7L699.3 998.4L696.2 991.0ZM686.9 995.2L690.4 1002.4L693.0 1006.6L696.2 1011.8L694.2 1006.1L692.4 1001.4L688.9 994.2ZM679.9 998.0L682.5 1005.5L688.1 1019.9L695.0 1037.5L689.4 1019.5L684.8 1004.7L682.2 997.2ZM671.6 1001.0L673.8 1008.7L676.7 1016.9L680.5 1026.8L678.6 1016.3L676.9 1007.8L674.7 1000.1ZM658.2 1005.2L660.1 1012.9L662.4 1020.3L665.2 1029.2L663.5 1020.0L661.9 1012.5L659.9 1004.7ZM652.7 1006.6L654.5 1014.4L658.6 1030.8L663.7 1050.7L659.8 1030.5L656.5 1013.9L654.8 1006.1ZM639.5 1009.5L641.0 1017.4L643.1 1026.8L645.7 1038.3L644.1 1026.6L642.8 1017.0L641.4 1009.2ZM631.8 1010.9L633.2 1018.7L634.8 1025.2L637.0 1033.0L636.4 1024.9L635.9 1018.3L634.5 1010.4ZM622.6 1012.1L623.7 1020.0L624.6 1023.0L626.0 1026.6L626.3 1022.8L626.5 1019.7L625.4 1011.7ZM617.1 1012.6L617.1 1020.6L617.7 1027.0L618.5 1034.8L619.1 1027.0L619.5 1020.6L619.4 1012.6ZM605.8 1013.4L605.8 1021.4L606.3 1039.8L607.0 1062.3L607.5 1039.8L607.8 1021.4L607.8 1013.4ZM596.2 1013.6L596.4 1021.6L597.1 1028.1L598.2 1035.9L598.8 1028.0L599.2 1021.6L599.0 1013.6ZM583.0 1013.2L582.5 1021.2L582.3 1029.6L582.3 1039.9L583.8 1029.7L584.9 1021.4L585.5 1013.4ZM574.2 1012.7L574.0 1020.7L574.3 1029.8L574.8 1041.0L575.8 1029.8L576.4 1020.8L576.6 1012.8ZM568.1 1011.9L566.9 1019.8L565.8 1031.9L564.6 1046.6L567.6 1032.1L569.9 1020.3L571.0 1012.3ZM558.0 1010.6L557.3 1018.6L556.5 1032.5L555.6 1049.5L557.9 1032.6L559.7 1018.8L560.4 1010.9ZM549.5 1009.0L548.1 1016.9L547.3 1024.6L546.5 1034.1L548.8 1024.9L550.5 1017.3L551.9 1009.4ZM539.6 1006.7L537.4 1014.4L534.3 1027.6L530.6 1043.8L536.0 1028.1L540.3 1015.2L542.4 1007.5ZM532.2 1004.8L529.9 1012.5L526.6 1026.1L522.6 1042.9L528.4 1026.7L533.0 1013.4L535.3 1005.7ZM524.6 1002.5L522.3 1010.2L520.5 1018.0L518.4 1027.6L521.9 1018.4L524.6 1010.9L526.9 1003.2ZM514.0 998.8L511.3 1006.4L506.5 1020.8L500.8 1038.4L507.7 1021.2L513.2 1007.1L515.9 999.5ZM508.0 996.5L505.2 1004.0L502.1 1014.4L498.4 1027.1L503.9 1015.1L508.2 1005.1L511.0 997.6ZM499.8 993.1L497.0 1000.6L494.7 1008.6L492.0 1018.4L496.5 1009.3L500.1 1001.7L502.9 994.3ZM490.3 988.6L487.9 996.3L483.2 1012.4L477.6 1032.1L484.5 1012.8L490.0 996.9L492.4 989.3ZM483.0 984.7L480.1 992.2L479.1 996.5L477.9 1001.9L480.7 997.1L482.8 993.2L485.7 985.7ZM474.7 979.7L471.4 987.0L466.0 1000.0L459.6 1015.9L467.4 1000.6L473.7 988.1L477.0 980.8ZM470.5 976.8L466.3 983.7L465.1 986.8L463.8 990.7L466.6 987.7L468.8 985.2L473.0 978.4ZM462.9 971.7L458.8 978.5L454.7 986.4L449.8 996.0L456.1 987.3L461.2 980.0L465.4 973.2ZM455.0 965.7L450.5 972.3L442.3 985.6L432.5 1001.9L443.9 986.7L453.2 974.2L457.7 967.6ZM451.3 962.5L446.0 968.5L439.4 976.8L431.5 987.1L440.6 977.9L448.1 970.3L453.3 964.3ZM443.9 956.1L438.5 962.0L425.3 977.5L409.2 996.5L426.6 978.7L440.8 964.1L446.2 958.2ZM439.6 952.0L434.1 957.9L429.2 964.1L423.4 971.8L430.7 965.4L436.5 960.1L442.0 954.3ZM432.4 944.7L426.8 950.5L413.7 964.9L397.8 982.6L415.2 966.3L429.3 952.8L434.8 947.1ZM428.5 940.3L422.6 945.7L416.8 951.7L409.8 959.1L417.8 952.8L424.3 947.5L430.2 942.1ZM422.8 933.4L416.7 938.6L408.8 946.2L399.3 955.6L410.1 947.7L418.8 941.0L424.8 935.8ZM417.2 926.2L411.1 931.4L404.5 937.8L396.5 945.8L405.7 939.3L413.2 933.8L419.3 928.7ZM412.7 919.4L406.0 923.8L390.5 934.9L371.5 948.7L391.6 936.6L407.9 926.6L414.6 922.2ZM407.2 910.5L400.3 914.4L387.7 922.2L372.5 931.7L388.4 923.4L401.4 916.5L408.4 912.5ZM403.4 903.5L396.2 906.9L390.6 910.3L383.8 914.7L391.4 912.1L397.6 909.9L404.8 906.5ZM399.8 896.2L392.5 899.5L386.4 902.9L379.0 907.3L387.2 904.7L393.8 902.4L401.1 899.2ZM395.7 886.8L388.3 889.8L372.3 896.7L352.8 905.3L372.7 897.8L389.0 891.5L396.4 888.5ZM393.3 880.4L385.7 882.9L371.5 888.2L354.1 894.7L372.0 889.8L386.6 885.5L394.2 883.0ZM390.8 872.8L383.1 874.9L375.5 877.4L366.3 880.6L375.9 878.8L383.7 877.2L391.4 875.1ZM387.5 860.1L379.6 861.5L366.4 864.6L350.3 868.4L366.7 866.3L380.1 864.4L388.0 862.9ZM385.9 852.0L377.9 852.8L361.8 854.9L342.0 857.6L361.9 856.8L378.2 855.9L386.2 855.2ZM384.6 844.8L376.7 846.0L371.9 847.2L365.9 848.7L372.0 848.3L377.0 847.9L384.9 846.7ZM383.7 835.1L375.7 835.5L355.3 837.3L330.3 839.5L355.4 839.0L375.9 838.5L383.8 838.0ZM383.3 823.5L375.3 822.7L366.9 822.4L356.5 822.1L366.7 824.0L375.0 825.4L383.0 826.3ZM383.5 810.3L375.5 810.0L369.9 810.7L363.0 811.9L369.8 813.7L375.3 814.9L383.3 815.2ZM385.6 793.8L377.8 791.9L373.7 791.8L368.5 791.9L373.1 794.2L376.9 796.0L384.6 797.8ZM391.4 768.9L383.7 766.8L378.6 766.3L372.4 766.0L378.0 768.8L382.6 770.9L390.3 773.0ZM406.2 735.0L399.0 731.5L395.5 730.7L391.1 729.9L394.5 732.8L397.3 735.1L404.5 738.5ZM413.5 723.8L407.3 718.6L404.4 717.2L400.7 715.6L402.9 719.0L404.9 721.6L411.0 726.7ZM429.8 702.4L424.0 696.8L421.1 694.9L417.4 692.7L419.8 696.3L421.9 699.1L427.6 704.6ZM451.9 681.0L447.0 674.7L442.3 669.9L436.5 664.2L440.8 671.2L444.3 676.8L449.3 683.1ZM475.1 664.4L471.2 657.4L468.6 654.6L465.3 651.3L466.5 655.8L467.6 659.4L471.5 666.4ZM492.1 654.7L488.3 647.7L485.1 643.8L481.1 639.2L482.7 645.1L484.2 649.9L488.0 656.9ZM511.6 646.1L508.8 638.6L507.0 636.2L504.4 633.3L504.4 637.2L504.5 640.2L507.2 647.7ZM539.4 637.1L537.0 629.5L535.2 626.2L532.8 622.3L533.1 626.9L533.5 630.6L535.9 638.3ZM555.0 634.0L553.6 626.1L552.1 623.0L550.1 619.3L549.6 623.5L549.3 626.9L550.7 634.7ZM591.1 630.4L590.6 622.4L589.6 619.1L588.2 615.0L587.4 619.2L586.8 622.6L587.4 630.6ZM605.6 630.4L605.1 622.4L604.1 617.2L602.5 610.8L601.6 617.3L601.1 622.6L601.5 630.6ZM633.8 633.3L634.4 625.3L634.0 620.5L633.2 614.6L631.6 620.3L630.5 625.0L629.9 633.0ZM655.9 638.2L657.8 630.4L658.6 623.3L659.4 614.5L656.0 622.6L653.4 629.3L651.5 637.1ZM679.3 645.7L681.9 638.1L683.0 633.0L684.1 626.6L681.0 632.3L678.7 637.0L676.1 644.6ZM696.7 653.0L699.2 645.4L700.5 639.4L701.9 632.1L698.6 638.8L696.1 644.4L693.6 652.0ZM726.9 670.9L731.2 664.2L733.1 659.4L735.2 653.5L730.7 657.9L727.2 661.7L722.9 668.4ZM738.9 680.2L743.8 673.9L747.6 668.0L752.0 660.7L746.1 666.8L741.3 671.9L736.4 678.2ZM757.6 697.7L763.8 692.7L766.0 690.1L768.6 686.6L764.7 688.4L761.6 690.0L755.3 695.0ZM770.9 713.2L777.2 708.3L781.1 704.5L785.7 699.7L779.9 702.9L775.2 705.6L768.8 710.4ZM787.8 739.9L795.2 737.0L798.1 734.8L801.5 731.9L797.0 732.1L793.5 732.5L786.0 735.4ZM797.2 760.1L804.6 757.0L807.5 755.1L811.0 752.5L806.7 753.1L803.2 753.8L795.8 756.9ZM805.6 790.8L813.5 789.7L818.1 788.0L823.7 785.8L817.7 785.3L812.9 785.1L804.9 786.3ZM808.1 809.7L816.1 809.2L820.0 808.2L824.7 806.8L819.8 806.1L815.8 805.6L807.9 806.2ZM807.6 839.7L815.5 840.6L819.6 840.1L824.6 839.2L820.0 837.2L816.1 835.7L808.2 834.8ZM803.3 864.3L811.1 866.2L816.0 866.6L822.0 866.8L816.5 864.3L812.0 862.3L804.3 860.4ZM794.9 890.0L802.5 892.5L806.7 893.0L811.9 893.3L807.5 890.4L803.9 888.2L796.3 885.7ZM783.8 911.8L790.9 915.5L793.9 916.4L797.6 917.2L794.8 914.7L792.4 912.7L785.3 909.0ZM771.4 930.6L778.3 934.7L781.6 935.6L785.7 936.5L782.9 933.3L780.5 930.9L773.6 926.9ZM749.7 954.7L755.7 959.9L761.5 963.6L768.7 967.8L763.4 961.4L758.9 956.3L752.8 951.0ZM729.5 971.2L734.5 977.4L739.1 982.0L744.9 987.6L740.6 980.8L737.0 975.4L732.0 969.1ZM710.5 983.6L715.0 990.2L719.3 995.0L724.7 1000.7L721.4 993.5L718.6 987.7L714.2 981.1ZM691.4 993.3L695.0 1000.4L698.7 1006.4L703.5 1013.7L700.4 1005.6L697.8 999.0L694.2 991.8ZM666.2 1002.9L668.9 1010.4L671.3 1014.7L674.4 1019.9L673.4 1014.0L672.5 1009.1L669.8 1001.6ZM647.6 1007.9L649.5 1015.6L651.6 1021.0L654.3 1027.6L653.8 1020.5L653.1 1014.8L651.2 1007.0ZM631.5 1010.6L631.7 1018.6L632.9 1025.7L634.7 1034.4L635.9 1025.7L636.6 1018.5L636.4 1010.5ZM600.6 1013.5L600.8 1021.5L601.7 1026.5L603.0 1032.5L604.0 1026.4L604.7 1021.5L604.5 1013.5ZM575.8 1012.7L574.8 1020.6L574.6 1027.5L574.6 1036.0L576.6 1027.8L578.2 1021.0L579.1 1013.1ZM549.2 1008.8L547.0 1016.5L546.7 1021.4L546.5 1027.5L549.6 1022.2L551.8 1017.8L554.0 1010.1ZM537.0 1006.0L534.4 1013.6L532.8 1020.0L531.1 1028.0L534.7 1020.7L537.5 1014.6L540.1 1007.1ZM512.6 998.2L509.1 1005.4L507.9 1009.9L506.6 1015.5L510.0 1010.9L512.7 1007.1L516.2 999.9ZM486.4 986.3L482.5 993.2L480.3 998.9L477.7 1005.8L482.3 1000.0L485.9 995.1L489.8 988.1ZM467.1 974.4L462.2 980.7L461.0 983.5L459.7 987.0L462.8 984.9L465.2 983.0L470.1 976.7ZM453.4 964.3L448.6 970.7L447.4 973.4L446.0 976.9L448.9 974.6L451.2 972.7L456.0 966.3ZM437.9 950.3L432.3 956.1L430.5 958.9L428.3 962.5L431.8 960.2L434.5 958.2L440.1 952.4ZM426.1 937.3L419.7 942.0L414.5 946.8L408.4 952.7L415.8 948.5L421.8 944.9L428.2 940.2ZM415.6 923.7L409.1 928.3L406.3 931.1L403.1 934.7L407.6 932.8L411.1 931.2L417.6 926.6ZM398.5 894.0L391.6 898.0L388.0 901.0L383.6 904.7L389.0 902.7L393.3 901.0L400.2 896.9ZM394.5 884.0L387.2 887.4L383.0 890.0L378.0 893.3L383.8 891.7L388.5 890.3L395.8 886.9ZM385.5 851.6L377.7 853.7L372.7 856.1L366.6 859.4L373.5 859.0L379.0 858.4L386.8 856.3ZM382.9 821.2L374.9 822.1L370.4 823.5L364.9 825.3L370.7 826.0L375.4 826.3L383.3 825.4Z" fill="#000" stroke="#000" stroke-width="0.5"/>
<ellipse cx="428.3" cy="592.6" rx="202.2" ry="200.1" fill="#fff"/>
<ellipse cx="595.85" cy="822.0" rx="220.7" ry="199.6" fill="#fff"/>
</svg>
<div class="t" id="t1">剩下的人生我会做个善良的人</div>
<div class="t" id="t2">求求你<br>让徐俊英喜欢我</div>
<div class="t" id="t3">让他没有我活不下去</div>
</body></html>
